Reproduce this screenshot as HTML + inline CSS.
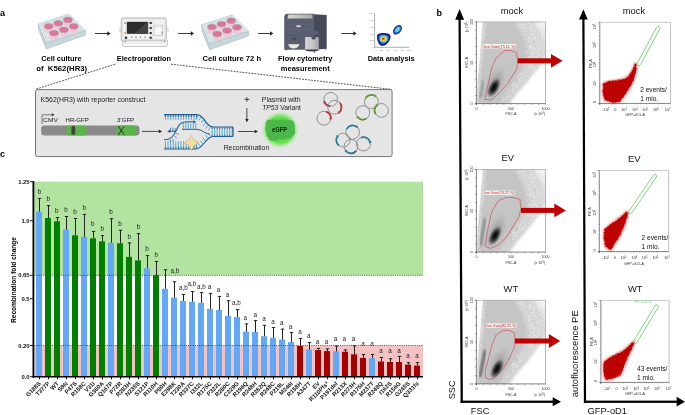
<!DOCTYPE html>
<html><head><meta charset="utf-8"><style>
html,body{margin:0;padding:0;background:#fff;width:685px;height:415px;overflow:hidden;}
svg{display:block;font-family:"Liberation Sans", sans-serif;will-change:transform;}
</style></head><body>
<svg width="685" height="415" viewBox="0 0 685 415">
<rect width="685" height="415" fill="#fff"/>
<rect x="34.2" y="181.7" width="388.8" height="93.6" fill="#b3e3a0"/>
<rect x="34.2" y="345.5" width="388.8" height="31.2" fill="#f4c2c2"/>
<rect x="36" y="211.7" width="6" height="165.0" fill="#62a8f7"/>
<line x1="39.5" y1="198.3" x2="39.5" y2="211.7" stroke="#222" stroke-width="1"/>
<line x1="37.8" y1="198.5" x2="41.2" y2="198.5" stroke="#222" stroke-width="1"/>
<text x="39.4" y="193.7" font-size="6.3" font-weight="normal" text-anchor="middle" fill="#222"  style="">b</text>
<line x1="39.5" y1="376.7" x2="39.5" y2="379.3" stroke="#111" stroke-width="1"/>
<text transform="translate(41.2,384.0) rotate(-45)" font-size="5.9" font-weight="bold" text-anchor="end" fill="#111">G188S</text>
<rect x="45" y="218" width="6" height="158.7" fill="#007f00"/>
<line x1="48.5" y1="205.4" x2="48.5" y2="218" stroke="#222" stroke-width="1"/>
<line x1="46.8" y1="205.6" x2="50.2" y2="205.6" stroke="#222" stroke-width="1"/>
<text x="48.2" y="201.2" font-size="6.3" font-weight="normal" text-anchor="middle" fill="#222"  style="">b</text>
<line x1="48.5" y1="376.7" x2="48.5" y2="379.3" stroke="#111" stroke-width="1"/>
<text transform="translate(50.2,384.0) rotate(-45)" font-size="5.9" font-weight="bold" text-anchor="end" fill="#111">T377P</text>
<rect x="54" y="221.3" width="6" height="155.4" fill="#007f00"/>
<line x1="57.5" y1="217.3" x2="57.5" y2="221.3" stroke="#222" stroke-width="1"/>
<line x1="55.8" y1="217.5" x2="59.2" y2="217.5" stroke="#222" stroke-width="1"/>
<text x="56.8" y="212.6" font-size="6.3" font-weight="normal" text-anchor="middle" fill="#222"  style="">b</text>
<line x1="57.5" y1="376.7" x2="57.5" y2="379.3" stroke="#111" stroke-width="1"/>
<text transform="translate(59.2,384.0) rotate(-45)" font-size="5.9" font-weight="bold" text-anchor="end" fill="#111">WT</text>
<rect x="63" y="229.7" width="6" height="147.0" fill="#62a8f7"/>
<line x1="66.5" y1="216.3" x2="66.5" y2="229.7" stroke="#222" stroke-width="1"/>
<line x1="64.8" y1="216.5" x2="68.2" y2="216.5" stroke="#222" stroke-width="1"/>
<text x="66" y="211.89999999999998" font-size="6.3" font-weight="normal" text-anchor="middle" fill="#222"  style="">b</text>
<line x1="66.5" y1="376.7" x2="66.5" y2="379.3" stroke="#111" stroke-width="1"/>
<text transform="translate(68.2,384.0) rotate(-45)" font-size="5.9" font-weight="bold" text-anchor="end" fill="#111">S9N</text>
<rect x="72" y="235.3" width="6" height="141.4" fill="#007f00"/>
<line x1="75.5" y1="218.3" x2="75.5" y2="235.3" stroke="#222" stroke-width="1"/>
<line x1="73.8" y1="218.5" x2="77.2" y2="218.5" stroke="#222" stroke-width="1"/>
<text x="75" y="214.2" font-size="6.3" font-weight="normal" text-anchor="middle" fill="#222"  style="">b</text>
<line x1="75.5" y1="376.7" x2="75.5" y2="379.3" stroke="#111" stroke-width="1"/>
<text transform="translate(77.2,384.0) rotate(-45)" font-size="5.9" font-weight="bold" text-anchor="end" fill="#111">P47S</text>
<rect x="81" y="236.8" width="6" height="139.9" fill="#62a8f7"/>
<line x1="84.5" y1="214.2" x2="84.5" y2="236.8" stroke="#222" stroke-width="1"/>
<line x1="82.8" y1="214.39999999999998" x2="86.2" y2="214.39999999999998" stroke="#222" stroke-width="1"/>
<text x="84.2" y="210.1" font-size="6.3" font-weight="normal" text-anchor="middle" fill="#222"  style="">b</text>
<line x1="84.5" y1="376.7" x2="84.5" y2="379.3" stroke="#111" stroke-width="1"/>
<text transform="translate(86.2,384.0) rotate(-45)" font-size="5.9" font-weight="bold" text-anchor="end" fill="#111">R158C</text>
<rect x="90" y="238.3" width="6" height="138.4" fill="#007f00"/>
<line x1="93.5" y1="231.2" x2="93.5" y2="238.3" stroke="#222" stroke-width="1"/>
<line x1="91.8" y1="231.39999999999998" x2="95.2" y2="231.39999999999998" stroke="#222" stroke-width="1"/>
<text x="92.8" y="226.1" font-size="6.3" font-weight="normal" text-anchor="middle" fill="#222"  style="">b</text>
<line x1="93.5" y1="376.7" x2="93.5" y2="379.3" stroke="#111" stroke-width="1"/>
<text transform="translate(95.2,384.0) rotate(-45)" font-size="5.9" font-weight="bold" text-anchor="end" fill="#111">V31I</text>
<rect x="99" y="241.3" width="6" height="135.4" fill="#007f00"/>
<line x1="102.5" y1="235.3" x2="102.5" y2="241.3" stroke="#222" stroke-width="1"/>
<line x1="100.8" y1="235.5" x2="104.2" y2="235.5" stroke="#222" stroke-width="1"/>
<text x="102.2" y="230.89999999999998" font-size="6.3" font-weight="normal" text-anchor="middle" fill="#222"  style="">b</text>
<line x1="102.5" y1="376.7" x2="102.5" y2="379.3" stroke="#111" stroke-width="1"/>
<text transform="translate(104.2,384.0) rotate(-45)" font-size="5.9" font-weight="bold" text-anchor="end" fill="#111">G360A</text>
<rect x="108" y="242.8" width="6" height="133.9" fill="#62a8f7"/>
<line x1="111.5" y1="218.5" x2="111.5" y2="242.8" stroke="#222" stroke-width="1"/>
<line x1="109.8" y1="218.7" x2="113.2" y2="218.7" stroke="#222" stroke-width="1"/>
<text x="111" y="213.89999999999998" font-size="6.3" font-weight="normal" text-anchor="middle" fill="#222"  style="">b</text>
<line x1="111.5" y1="376.7" x2="111.5" y2="379.3" stroke="#111" stroke-width="1"/>
<text transform="translate(113.2,384.0) rotate(-45)" font-size="5.9" font-weight="bold" text-anchor="end" fill="#111">Q167P</text>
<rect x="117" y="243.2" width="6" height="133.5" fill="#007f00"/>
<line x1="120.5" y1="230" x2="120.5" y2="243.2" stroke="#222" stroke-width="1"/>
<line x1="118.8" y1="230.2" x2="122.2" y2="230.2" stroke="#222" stroke-width="1"/>
<text x="119.9" y="225.79999999999998" font-size="6.3" font-weight="normal" text-anchor="middle" fill="#222"  style="">b</text>
<line x1="120.5" y1="376.7" x2="120.5" y2="379.3" stroke="#111" stroke-width="1"/>
<text transform="translate(122.2,384.0) rotate(-45)" font-size="5.9" font-weight="bold" text-anchor="end" fill="#111">P72R</text>
<rect x="126" y="256.9" width="6" height="119.8" fill="#007f00"/>
<line x1="129.5" y1="242.7" x2="129.5" y2="256.9" stroke="#222" stroke-width="1"/>
<line x1="127.8" y1="242.89999999999998" x2="131.2" y2="242.89999999999998" stroke="#222" stroke-width="1"/>
<text x="129.2" y="238.5" font-size="6.3" font-weight="normal" text-anchor="middle" fill="#222"  style="">b</text>
<line x1="129.5" y1="376.7" x2="129.5" y2="379.3" stroke="#111" stroke-width="1"/>
<text transform="translate(131.2,384.0) rotate(-45)" font-size="5.9" font-weight="bold" text-anchor="end" fill="#111">R283H</text>
<rect x="135" y="260.4" width="6" height="116.3" fill="#007f00"/>
<line x1="138.5" y1="233.4" x2="138.5" y2="260.4" stroke="#222" stroke-width="1"/>
<line x1="136.8" y1="233.6" x2="140.2" y2="233.6" stroke="#222" stroke-width="1"/>
<text x="138.5" y="229.2" font-size="6.3" font-weight="normal" text-anchor="middle" fill="#222"  style="">b</text>
<line x1="138.5" y1="376.7" x2="138.5" y2="379.3" stroke="#111" stroke-width="1"/>
<text transform="translate(140.2,384.0) rotate(-45)" font-size="5.9" font-weight="bold" text-anchor="end" fill="#111">N235S</text>
<rect x="144" y="268.3" width="6" height="108.4" fill="#62a8f7"/>
<line x1="147.5" y1="255.4" x2="147.5" y2="268.3" stroke="#222" stroke-width="1"/>
<line x1="145.8" y1="255.6" x2="149.2" y2="255.6" stroke="#222" stroke-width="1"/>
<text x="147.1" y="251.2" font-size="6.3" font-weight="normal" text-anchor="middle" fill="#222"  style="">b</text>
<line x1="147.5" y1="376.7" x2="147.5" y2="379.3" stroke="#111" stroke-width="1"/>
<text transform="translate(149.2,384.0) rotate(-45)" font-size="5.9" font-weight="bold" text-anchor="end" fill="#111">S121P</text>
<rect x="153" y="275.1" width="6" height="101.6" fill="#007f00"/>
<line x1="156.5" y1="261.2" x2="156.5" y2="275.1" stroke="#222" stroke-width="1"/>
<line x1="154.8" y1="261.4" x2="158.2" y2="261.4" stroke="#222" stroke-width="1"/>
<text x="156.2" y="257.1" font-size="6.3" font-weight="normal" text-anchor="middle" fill="#222"  style="">b</text>
<line x1="156.5" y1="376.7" x2="156.5" y2="379.3" stroke="#111" stroke-width="1"/>
<text transform="translate(158.2,384.0) rotate(-45)" font-size="5.9" font-weight="bold" text-anchor="end" fill="#111">R110H</text>
<rect x="162" y="288.8" width="6" height="87.9" fill="#62a8f7"/>
<line x1="165.5" y1="269.6" x2="165.5" y2="288.8" stroke="#222" stroke-width="1"/>
<line x1="163.8" y1="269.8" x2="167.2" y2="269.8" stroke="#222" stroke-width="1"/>
<line x1="165.5" y1="376.7" x2="165.5" y2="379.3" stroke="#111" stroke-width="1"/>
<text transform="translate(167.2,384.0) rotate(-45)" font-size="5.9" font-weight="bold" text-anchor="end" fill="#111">P80H</text>
<rect x="171" y="297.5" width="6" height="79.2" fill="#62a8f7"/>
<line x1="174.5" y1="281.6" x2="174.5" y2="297.5" stroke="#222" stroke-width="1"/>
<line x1="172.8" y1="281.8" x2="176.2" y2="281.8" stroke="#222" stroke-width="1"/>
<text x="175" y="273.2" font-size="6.3" font-weight="normal" text-anchor="middle" fill="#222"  style="">a,b</text>
<line x1="174.5" y1="376.7" x2="174.5" y2="379.3" stroke="#111" stroke-width="1"/>
<text transform="translate(176.2,384.0) rotate(-45)" font-size="5.9" font-weight="bold" text-anchor="end" fill="#111">E298K</text>
<rect x="180" y="301.0" width="6" height="75.7" fill="#62a8f7"/>
<line x1="183.5" y1="294.2" x2="183.5" y2="301.0" stroke="#222" stroke-width="1"/>
<line x1="181.8" y1="294.4" x2="185.2" y2="294.4" stroke="#222" stroke-width="1"/>
<text x="183.3" y="290.4" font-size="6.3" font-weight="normal" text-anchor="middle" fill="#222"  style="">a,b</text>
<line x1="183.5" y1="376.7" x2="183.5" y2="379.3" stroke="#111" stroke-width="1"/>
<text transform="translate(185.2,384.0) rotate(-45)" font-size="5.9" font-weight="bold" text-anchor="end" fill="#111">T230A</text>
<rect x="189" y="301.8" width="6" height="74.9" fill="#62a8f7"/>
<line x1="192.5" y1="291.4" x2="192.5" y2="301.8" stroke="#222" stroke-width="1"/>
<line x1="190.8" y1="291.59999999999997" x2="194.2" y2="291.59999999999997" stroke="#222" stroke-width="1"/>
<text x="192" y="286.2" font-size="6.3" font-weight="normal" text-anchor="middle" fill="#222"  style="">a,b</text>
<line x1="192.5" y1="376.7" x2="192.5" y2="379.3" stroke="#111" stroke-width="1"/>
<text transform="translate(194.2,384.0) rotate(-45)" font-size="5.9" font-weight="bold" text-anchor="end" fill="#111">R337C</text>
<rect x="198" y="302.8" width="6" height="73.9" fill="#62a8f7"/>
<line x1="201.5" y1="292.3" x2="201.5" y2="302.8" stroke="#222" stroke-width="1"/>
<line x1="199.8" y1="292.5" x2="203.2" y2="292.5" stroke="#222" stroke-width="1"/>
<text x="201.4" y="289.3" font-size="6.3" font-weight="normal" text-anchor="middle" fill="#222"  style="">a,b</text>
<line x1="201.5" y1="376.7" x2="201.5" y2="379.3" stroke="#111" stroke-width="1"/>
<text transform="translate(203.2,384.0) rotate(-45)" font-size="5.9" font-weight="bold" text-anchor="end" fill="#111">I332L</text>
<rect x="207" y="308.8" width="6" height="67.9" fill="#62a8f7"/>
<line x1="210.5" y1="293.2" x2="210.5" y2="308.8" stroke="#222" stroke-width="1"/>
<line x1="208.8" y1="293.4" x2="212.2" y2="293.4" stroke="#222" stroke-width="1"/>
<text x="209.6" y="289.3" font-size="6.3" font-weight="normal" text-anchor="middle" fill="#222"  style="">a</text>
<line x1="210.5" y1="376.7" x2="210.5" y2="379.3" stroke="#111" stroke-width="1"/>
<text transform="translate(212.2,384.0) rotate(-45)" font-size="5.9" font-weight="bold" text-anchor="end" fill="#111">R175C</text>
<rect x="216" y="310" width="6" height="66.7" fill="#62a8f7"/>
<line x1="219.5" y1="296.2" x2="219.5" y2="310" stroke="#222" stroke-width="1"/>
<line x1="217.8" y1="296.4" x2="221.2" y2="296.4" stroke="#222" stroke-width="1"/>
<text x="218.5" y="292.0" font-size="6.3" font-weight="normal" text-anchor="middle" fill="#222"  style="">a</text>
<line x1="219.5" y1="376.7" x2="219.5" y2="379.3" stroke="#111" stroke-width="1"/>
<text transform="translate(221.2,384.0) rotate(-45)" font-size="5.9" font-weight="bold" text-anchor="end" fill="#111">P322L</text>
<rect x="225" y="315.8" width="6" height="60.9" fill="#62a8f7"/>
<line x1="228.5" y1="300.5" x2="228.5" y2="315.8" stroke="#222" stroke-width="1"/>
<line x1="226.8" y1="300.7" x2="230.2" y2="300.7" stroke="#222" stroke-width="1"/>
<text x="227.6" y="297.2" font-size="6.3" font-weight="normal" text-anchor="middle" fill="#222"  style="">a</text>
<line x1="228.5" y1="376.7" x2="228.5" y2="379.3" stroke="#111" stroke-width="1"/>
<text transform="translate(230.2,384.0) rotate(-45)" font-size="5.9" font-weight="bold" text-anchor="end" fill="#111">R280C</text>
<rect x="234" y="317.0" width="6" height="59.7" fill="#62a8f7"/>
<line x1="237.5" y1="309.4" x2="237.5" y2="317.0" stroke="#222" stroke-width="1"/>
<line x1="235.8" y1="309.59999999999997" x2="239.2" y2="309.59999999999997" stroke="#222" stroke-width="1"/>
<text x="236.5" y="305.0" font-size="6.3" font-weight="normal" text-anchor="middle" fill="#222"  style="">a,b</text>
<line x1="237.5" y1="376.7" x2="237.5" y2="379.3" stroke="#111" stroke-width="1"/>
<text transform="translate(239.2,384.0) rotate(-45)" font-size="5.9" font-weight="bold" text-anchor="end" fill="#111">C229G</text>
<rect x="243" y="331.5" width="6" height="45.2" fill="#62a8f7"/>
<line x1="246.5" y1="323.7" x2="246.5" y2="331.5" stroke="#222" stroke-width="1"/>
<line x1="244.8" y1="323.9" x2="248.2" y2="323.9" stroke="#222" stroke-width="1"/>
<text x="245.3" y="319.8" font-size="6.3" font-weight="normal" text-anchor="middle" fill="#222"  style="">a</text>
<line x1="246.5" y1="376.7" x2="246.5" y2="379.3" stroke="#111" stroke-width="1"/>
<text transform="translate(248.2,384.0) rotate(-45)" font-size="5.9" font-weight="bold" text-anchor="end" fill="#111">R196Q</text>
<rect x="252" y="332" width="6" height="44.7" fill="#62a8f7"/>
<line x1="255.5" y1="320.4" x2="255.5" y2="332" stroke="#222" stroke-width="1"/>
<line x1="253.8" y1="320.59999999999997" x2="257.2" y2="320.59999999999997" stroke="#222" stroke-width="1"/>
<text x="255.2" y="316.5" font-size="6.3" font-weight="normal" text-anchor="middle" fill="#222"  style="">a</text>
<line x1="255.5" y1="376.7" x2="255.5" y2="379.3" stroke="#111" stroke-width="1"/>
<text transform="translate(257.2,384.0) rotate(-45)" font-size="5.9" font-weight="bold" text-anchor="end" fill="#111">R248H</text>
<rect x="261" y="336.2" width="6" height="40.5" fill="#62a8f7"/>
<line x1="264.5" y1="325.1" x2="264.5" y2="336.2" stroke="#222" stroke-width="1"/>
<line x1="262.8" y1="325.3" x2="266.2" y2="325.3" stroke="#222" stroke-width="1"/>
<text x="264" y="321.09999999999997" font-size="6.3" font-weight="normal" text-anchor="middle" fill="#222"  style="">a</text>
<line x1="264.5" y1="376.7" x2="264.5" y2="379.3" stroke="#111" stroke-width="1"/>
<text transform="translate(266.2,384.0) rotate(-45)" font-size="5.9" font-weight="bold" text-anchor="end" fill="#111">R282Q</text>
<rect x="270" y="337.8" width="6" height="38.9" fill="#62a8f7"/>
<line x1="273.5" y1="327.3" x2="273.5" y2="337.8" stroke="#222" stroke-width="1"/>
<line x1="271.8" y1="327.5" x2="275.2" y2="327.5" stroke="#222" stroke-width="1"/>
<text x="273.1" y="323.5" font-size="6.3" font-weight="normal" text-anchor="middle" fill="#222"  style="">a</text>
<line x1="273.5" y1="376.7" x2="273.5" y2="379.3" stroke="#111" stroke-width="1"/>
<text transform="translate(275.2,384.0) rotate(-45)" font-size="5.9" font-weight="bold" text-anchor="end" fill="#111">R248C</text>
<rect x="279" y="339.5" width="6" height="37.2" fill="#62a8f7"/>
<line x1="282.5" y1="328.9" x2="282.5" y2="339.5" stroke="#222" stroke-width="1"/>
<line x1="280.8" y1="329.09999999999997" x2="284.2" y2="329.09999999999997" stroke="#222" stroke-width="1"/>
<text x="281.8" y="324.7" font-size="6.3" font-weight="normal" text-anchor="middle" fill="#222"  style="">a</text>
<line x1="282.5" y1="376.7" x2="282.5" y2="379.3" stroke="#111" stroke-width="1"/>
<text transform="translate(284.2,384.0) rotate(-45)" font-size="5.9" font-weight="bold" text-anchor="end" fill="#111">P219L</text>
<rect x="288" y="342" width="6" height="34.7" fill="#62a8f7"/>
<line x1="291.5" y1="332.4" x2="291.5" y2="342" stroke="#222" stroke-width="1"/>
<line x1="289.8" y1="332.59999999999997" x2="293.2" y2="332.59999999999997" stroke="#222" stroke-width="1"/>
<text x="290.4" y="328.8" font-size="6.3" font-weight="normal" text-anchor="middle" fill="#222"  style="">a</text>
<line x1="291.5" y1="376.7" x2="291.5" y2="379.3" stroke="#111" stroke-width="1"/>
<text transform="translate(293.2,384.0) rotate(-45)" font-size="5.9" font-weight="bold" text-anchor="end" fill="#111">M246I</text>
<rect x="297" y="345.9" width="6" height="30.8" fill="#a30000"/>
<line x1="300.5" y1="338.2" x2="300.5" y2="345.9" stroke="#222" stroke-width="1"/>
<line x1="298.8" y1="338.4" x2="302.2" y2="338.4" stroke="#222" stroke-width="1"/>
<text x="300.1" y="334.0" font-size="6.3" font-weight="normal" text-anchor="middle" fill="#222"  style="">a</text>
<line x1="300.5" y1="376.7" x2="300.5" y2="379.3" stroke="#111" stroke-width="1"/>
<text transform="translate(302.2,384.0) rotate(-45)" font-size="5.9" font-weight="bold" text-anchor="end" fill="#111">R158H</text>
<rect x="306" y="349.5" width="6" height="27.2" fill="#62a8f7"/>
<line x1="309.5" y1="342.4" x2="309.5" y2="349.5" stroke="#222" stroke-width="1"/>
<line x1="307.8" y1="342.59999999999997" x2="311.2" y2="342.59999999999997" stroke="#222" stroke-width="1"/>
<text x="308.7" y="338.4" font-size="6.3" font-weight="normal" text-anchor="middle" fill="#222"  style="">a</text>
<line x1="309.5" y1="376.7" x2="309.5" y2="379.3" stroke="#111" stroke-width="1"/>
<text transform="translate(311.2,384.0) rotate(-45)" font-size="5.9" font-weight="bold" text-anchor="end" fill="#111">A347T</text>
<rect x="315" y="350.1" width="6" height="26.6" fill="#a30000"/>
<line x1="318.5" y1="348.2" x2="318.5" y2="350.1" stroke="#222" stroke-width="1"/>
<line x1="316.8" y1="348.4" x2="320.2" y2="348.4" stroke="#222" stroke-width="1"/>
<text x="317.4" y="344.2" font-size="6.3" font-weight="normal" text-anchor="middle" fill="#222"  style="">a</text>
<line x1="318.5" y1="376.7" x2="318.5" y2="379.3" stroke="#111" stroke-width="1"/>
<text transform="translate(320.2,384.0) rotate(-45)" font-size="5.9" font-weight="bold" text-anchor="end" fill="#111">EV</text>
<rect x="324" y="351.1" width="6" height="25.6" fill="#a30000"/>
<line x1="327.5" y1="348.7" x2="327.5" y2="351.1" stroke="#222" stroke-width="1"/>
<line x1="325.8" y1="348.9" x2="329.2" y2="348.9" stroke="#222" stroke-width="1"/>
<text x="326.5" y="344.2" font-size="6.3" font-weight="normal" text-anchor="middle" fill="#222"  style="">a</text>
<line x1="327.5" y1="376.7" x2="327.5" y2="379.3" stroke="#111" stroke-width="1"/>
<text transform="translate(329.2,384.0) rotate(-45)" font-size="5.9" font-weight="bold" text-anchor="end" fill="#111">R110Pfs*</text>
<rect x="333" y="351.4" width="6" height="25.3" fill="#62a8f7"/>
<line x1="336.5" y1="345.9" x2="336.5" y2="351.4" stroke="#222" stroke-width="1"/>
<line x1="334.8" y1="346.09999999999997" x2="338.2" y2="346.09999999999997" stroke="#222" stroke-width="1"/>
<text x="335.5" y="341.3" font-size="6.3" font-weight="normal" text-anchor="middle" fill="#222"  style="">a</text>
<line x1="336.5" y1="376.7" x2="336.5" y2="379.3" stroke="#111" stroke-width="1"/>
<text transform="translate(338.2,384.0) rotate(-45)" font-size="5.9" font-weight="bold" text-anchor="end" fill="#111">P191del</text>
<rect x="342" y="351.8" width="6" height="24.9" fill="#a30000"/>
<line x1="345.5" y1="349.7" x2="345.5" y2="351.8" stroke="#222" stroke-width="1"/>
<line x1="343.8" y1="349.9" x2="347.2" y2="349.9" stroke="#222" stroke-width="1"/>
<text x="344.2" y="341.0" font-size="6.3" font-weight="normal" text-anchor="middle" fill="#222"  style="">a</text>
<line x1="345.5" y1="376.7" x2="345.5" y2="379.3" stroke="#111" stroke-width="1"/>
<text transform="translate(347.2,384.0) rotate(-45)" font-size="5.9" font-weight="bold" text-anchor="end" fill="#111">R213X</text>
<rect x="351" y="354.3" width="6" height="22.4" fill="#a30000"/>
<line x1="354.5" y1="345.6" x2="354.5" y2="354.3" stroke="#222" stroke-width="1"/>
<line x1="352.8" y1="345.8" x2="356.2" y2="345.8" stroke="#222" stroke-width="1"/>
<text x="353.4" y="341.0" font-size="6.3" font-weight="normal" text-anchor="middle" fill="#222"  style="">a</text>
<line x1="354.5" y1="376.7" x2="354.5" y2="379.3" stroke="#111" stroke-width="1"/>
<text transform="translate(356.2,384.0) rotate(-45)" font-size="5.9" font-weight="bold" text-anchor="end" fill="#111">R273H</text>
<rect x="360" y="357.9" width="6" height="18.8" fill="#a30000"/>
<line x1="363.5" y1="354.3" x2="363.5" y2="357.9" stroke="#222" stroke-width="1"/>
<line x1="361.8" y1="354.5" x2="365.2" y2="354.5" stroke="#222" stroke-width="1"/>
<text x="363" y="346.09999999999997" font-size="6.3" font-weight="normal" text-anchor="middle" fill="#222"  style="">a</text>
<line x1="363.5" y1="376.7" x2="363.5" y2="379.3" stroke="#111" stroke-width="1"/>
<text transform="translate(365.2,384.0) rotate(-45)" font-size="5.9" font-weight="bold" text-anchor="end" fill="#111">R175H</text>
<rect x="369" y="358.1" width="6" height="18.6" fill="#62a8f7"/>
<line x1="372.5" y1="354.3" x2="372.5" y2="358.1" stroke="#222" stroke-width="1"/>
<line x1="370.8" y1="354.5" x2="374.2" y2="354.5" stroke="#222" stroke-width="1"/>
<text x="372" y="346.09999999999997" font-size="6.3" font-weight="normal" text-anchor="middle" fill="#222"  style="">a</text>
<line x1="372.5" y1="376.7" x2="372.5" y2="379.3" stroke="#111" stroke-width="1"/>
<text transform="translate(374.2,384.0) rotate(-45)" font-size="5.9" font-weight="bold" text-anchor="end" fill="#111">M237T</text>
<rect x="378" y="361.5" width="6" height="15.2" fill="#a30000"/>
<line x1="381.5" y1="357.3" x2="381.5" y2="361.5" stroke="#222" stroke-width="1"/>
<line x1="379.8" y1="357.5" x2="383.2" y2="357.5" stroke="#222" stroke-width="1"/>
<text x="381" y="352.9" font-size="6.3" font-weight="normal" text-anchor="middle" fill="#222"  style="">a</text>
<line x1="381.5" y1="376.7" x2="381.5" y2="379.3" stroke="#111" stroke-width="1"/>
<text transform="translate(383.2,384.0) rotate(-45)" font-size="5.9" font-weight="bold" text-anchor="end" fill="#111">R248Q</text>
<rect x="387" y="362" width="6" height="14.7" fill="#a30000"/>
<line x1="390.5" y1="358.5" x2="390.5" y2="362" stroke="#222" stroke-width="1"/>
<line x1="388.8" y1="358.7" x2="392.2" y2="358.7" stroke="#222" stroke-width="1"/>
<text x="390" y="352.9" font-size="6.3" font-weight="normal" text-anchor="middle" fill="#222"  style="">a</text>
<line x1="390.5" y1="376.7" x2="390.5" y2="379.3" stroke="#111" stroke-width="1"/>
<text transform="translate(392.2,384.0) rotate(-45)" font-size="5.9" font-weight="bold" text-anchor="end" fill="#111">I162S</text>
<rect x="396" y="362" width="6" height="14.7" fill="#a30000"/>
<line x1="399.5" y1="356.2" x2="399.5" y2="362" stroke="#222" stroke-width="1"/>
<line x1="397.8" y1="356.4" x2="401.2" y2="356.4" stroke="#222" stroke-width="1"/>
<text x="399" y="352.9" font-size="6.3" font-weight="normal" text-anchor="middle" fill="#222"  style="">a</text>
<line x1="399.5" y1="376.7" x2="399.5" y2="379.3" stroke="#111" stroke-width="1"/>
<text transform="translate(401.2,384.0) rotate(-45)" font-size="5.9" font-weight="bold" text-anchor="end" fill="#111">R156G</text>
<rect x="405" y="364.6" width="6" height="12.1" fill="#a30000"/>
<line x1="408.5" y1="362.5" x2="408.5" y2="364.6" stroke="#222" stroke-width="1"/>
<line x1="406.8" y1="362.7" x2="410.2" y2="362.7" stroke="#222" stroke-width="1"/>
<text x="408" y="358.09999999999997" font-size="6.3" font-weight="normal" text-anchor="middle" fill="#222"  style="">a</text>
<line x1="408.5" y1="376.7" x2="408.5" y2="379.3" stroke="#111" stroke-width="1"/>
<text transform="translate(410.2,384.0) rotate(-45)" font-size="5.9" font-weight="bold" text-anchor="end" fill="#111">G245S</text>
<rect x="414" y="365.6" width="6" height="11.1" fill="#a30000"/>
<line x1="417.5" y1="362.4" x2="417.5" y2="365.6" stroke="#222" stroke-width="1"/>
<line x1="415.8" y1="362.59999999999997" x2="419.2" y2="362.59999999999997" stroke="#222" stroke-width="1"/>
<text x="417" y="358.09999999999997" font-size="6.3" font-weight="normal" text-anchor="middle" fill="#222"  style="">a</text>
<line x1="417.5" y1="376.7" x2="417.5" y2="379.3" stroke="#111" stroke-width="1"/>
<text transform="translate(419.2,384.0) rotate(-45)" font-size="5.9" font-weight="bold" text-anchor="end" fill="#111">Q331fs</text>
<line x1="34.2" y1="275.3" x2="423" y2="275.3" stroke="#333" stroke-width="0.8" stroke-dasharray="1,1.2"/>
<line x1="34.2" y1="345.5" x2="423" y2="345.5" stroke="#333" stroke-width="0.8" stroke-dasharray="1,1.2"/>
<line x1="33.4" y1="181.2" x2="33.4" y2="377.5" stroke="#000" stroke-width="1.8"/>
<line x1="32.5" y1="376.7" x2="423" y2="376.7" stroke="#000" stroke-width="1.5"/>
<line x1="30" y1="181.7" x2="33" y2="181.7" stroke="#000" stroke-width="0.9"/>
<text x="29.6" y="183.8" font-size="5.9" font-weight="bold" text-anchor="end" fill="#111"  style="">1.25</text>
<line x1="30" y1="220.7" x2="33" y2="220.7" stroke="#000" stroke-width="0.9"/>
<text x="29.6" y="222.8" font-size="5.9" font-weight="bold" text-anchor="end" fill="#111"  style="">1.0</text>
<line x1="30" y1="275.3" x2="33" y2="275.3" stroke="#000" stroke-width="0.9"/>
<text x="29.6" y="277.4" font-size="5.9" font-weight="bold" text-anchor="end" fill="#111"  style="">0.65</text>
<line x1="30" y1="298.7" x2="33" y2="298.7" stroke="#000" stroke-width="0.9"/>
<text x="29.6" y="300.8" font-size="5.9" font-weight="bold" text-anchor="end" fill="#111"  style="">0.5</text>
<line x1="30" y1="345.5" x2="33" y2="345.5" stroke="#000" stroke-width="0.9"/>
<text x="29.6" y="347.6" font-size="5.9" font-weight="bold" text-anchor="end" fill="#111"  style="">0.20</text>
<line x1="30" y1="376.7" x2="33" y2="376.7" stroke="#000" stroke-width="0.9"/>
<text x="29.6" y="378.8" font-size="5.9" font-weight="bold" text-anchor="end" fill="#111"  style="">0.0</text>
<text transform="translate(16.3,280) rotate(-90)" font-size="6.6" font-weight="bold" text-anchor="middle" textLength="86" lengthAdjust="spacingAndGlyphs">Recombination fold change</text>
<text x="0" y="157" font-size="9" font-weight="bold" text-anchor="start" fill="#000"  style="">c</text>
<text x="0" y="16" font-size="9" font-weight="bold" text-anchor="start" fill="#000"  style="">a</text>
<text x="436.5" y="16" font-size="9" font-weight="bold" text-anchor="start" fill="#000"  style="">b</text>
<g transform="translate(0,0)"><polygon points="38.3,24 45.8,43 85.3,30.5 85.6,35 46.3,49 38.9,30.5" fill="#c6d8dc" stroke="#9db3b9" stroke-width="0.5"/><polygon points="38.3,24 69,14 85.3,30.5 45.8,43" fill="#e3eef0" stroke="#9db3b9" stroke-width="0.5"/><polygon points="40.8,24.6 68.6,15.6 82.8,30.2 46.6,41.3" fill="#dae7ea" stroke="#b8cbcf" stroke-width="0.45"/><path d="M44.2,26.2 v3.9 a4.5,2.8 0 0 0 9,0 v-3.9 z" fill="#f3c6d6"/><ellipse cx="48.7" cy="26.2" rx="4.5" ry="2.8" fill="#db7599" stroke="#8fa6aa" stroke-width="0.5"/><path d="M53.8,23.2 v3.9 a4.5,2.8 0 0 0 9,0 v-3.9 z" fill="#f3c6d6"/><ellipse cx="58.3" cy="23.2" rx="4.5" ry="2.8" fill="#db7599" stroke="#8fa6aa" stroke-width="0.5"/><path d="M63.400000000000006,19.9 v3.9 a4.5,2.8 0 0 0 9,0 v-3.9 z" fill="#f3c6d6"/><ellipse cx="67.9" cy="19.9" rx="4.5" ry="2.8" fill="#db7599" stroke="#8fa6aa" stroke-width="0.5"/><path d="M49.5,33.1 v3.9 a4.5,2.8 0 0 0 9,0 v-3.9 z" fill="#f3c6d6"/><ellipse cx="54" cy="33.1" rx="4.5" ry="2.8" fill="#db7599" stroke="#8fa6aa" stroke-width="0.5"/><path d="M59.4,29.7 v3.9 a4.5,2.8 0 0 0 9,0 v-3.9 z" fill="#f3c6d6"/><ellipse cx="63.9" cy="29.7" rx="4.5" ry="2.8" fill="#db7599" stroke="#8fa6aa" stroke-width="0.5"/><path d="M69.2,26.4 v3.9 a4.5,2.8 0 0 0 9,0 v-3.9 z" fill="#f3c6d6"/><ellipse cx="73.7" cy="26.4" rx="4.5" ry="2.8" fill="#db7599" stroke="#8fa6aa" stroke-width="0.5"/></g>
<g transform="translate(163.3,0.8)"><polygon points="38.3,24 45.8,43 85.3,30.5 85.6,35 46.3,49 38.9,30.5" fill="#c6d8dc" stroke="#9db3b9" stroke-width="0.5"/><polygon points="38.3,24 69,14 85.3,30.5 45.8,43" fill="#e3eef0" stroke="#9db3b9" stroke-width="0.5"/><polygon points="40.8,24.6 68.6,15.6 82.8,30.2 46.6,41.3" fill="#dae7ea" stroke="#b8cbcf" stroke-width="0.45"/><path d="M44.2,26.2 v3.9 a4.5,2.8 0 0 0 9,0 v-3.9 z" fill="#f3c6d6"/><ellipse cx="48.7" cy="26.2" rx="4.5" ry="2.8" fill="#db7599" stroke="#8fa6aa" stroke-width="0.5"/><path d="M53.8,23.2 v3.9 a4.5,2.8 0 0 0 9,0 v-3.9 z" fill="#f3c6d6"/><ellipse cx="58.3" cy="23.2" rx="4.5" ry="2.8" fill="#db7599" stroke="#8fa6aa" stroke-width="0.5"/><path d="M63.400000000000006,19.9 v3.9 a4.5,2.8 0 0 0 9,0 v-3.9 z" fill="#f3c6d6"/><ellipse cx="67.9" cy="19.9" rx="4.5" ry="2.8" fill="#db7599" stroke="#8fa6aa" stroke-width="0.5"/><path d="M49.5,33.1 v3.9 a4.5,2.8 0 0 0 9,0 v-3.9 z" fill="#f3c6d6"/><ellipse cx="54" cy="33.1" rx="4.5" ry="2.8" fill="#db7599" stroke="#8fa6aa" stroke-width="0.5"/><path d="M59.4,29.7 v3.9 a4.5,2.8 0 0 0 9,0 v-3.9 z" fill="#f3c6d6"/><ellipse cx="63.9" cy="29.7" rx="4.5" ry="2.8" fill="#db7599" stroke="#8fa6aa" stroke-width="0.5"/><path d="M69.2,26.4 v3.9 a4.5,2.8 0 0 0 9,0 v-3.9 z" fill="#f3c6d6"/><ellipse cx="73.7" cy="26.4" rx="4.5" ry="2.8" fill="#db7599" stroke="#8fa6aa" stroke-width="0.5"/></g>
<line x1="95" y1="33.5" x2="107.8" y2="33.5" stroke="#222" stroke-width="0.9"/>
<polygon points="110.5,33.5 107.3,31.3 107.3,35.7" fill="#222"/>
<line x1="178.2" y1="33.5" x2="191.3" y2="33.5" stroke="#222" stroke-width="0.9"/>
<polygon points="194,33.5 190.8,31.3 190.8,35.7" fill="#222"/>
<line x1="258.1" y1="33.5" x2="270.6" y2="33.5" stroke="#222" stroke-width="0.9"/>
<polygon points="273.3,33.5 270.1,31.3 270.1,35.7" fill="#222"/>
<line x1="341.4" y1="33.5" x2="353.90000000000003" y2="33.5" stroke="#222" stroke-width="0.9"/>
<polygon points="356.6,33.5 353.40000000000003,31.3 353.40000000000003,35.7" fill="#222"/>
<path d="M122.2,40 V44.2 Q122.2,46.4 124.4,46.4 H165.2 Q167.4,46.4 167.4,44.2 V40" fill="#fbfbfb" stroke="#a8a8a8" stroke-width="0.7"/>
<path d="M124,43.4 H165.6" stroke="#c8c8c8" stroke-width="0.5"/>
<rect x="124.2" y="41.2" width="1.6" height="1.2" fill="#999"/><rect x="163.8" y="41.2" width="1.6" height="1.2" fill="#999"/>
<ellipse cx="120.3" cy="30" rx="1" ry="1.6" fill="#f4f4f4" stroke="#aaa" stroke-width="0.4"/>
<ellipse cx="167.6" cy="30" rx="1" ry="1.6" fill="#f4f4f4" stroke="#aaa" stroke-width="0.4"/>
<rect x="121.2" y="17.9" width="45.1" height="23" rx="1.8" fill="#e8e8e8" stroke="#a4a4a4" stroke-width="0.7"/>
<rect x="122.6" y="19.3" width="42.3" height="20.2" rx="1" fill="#f2f2f2" stroke="#d0d0d0" stroke-width="0.4"/>
<rect x="126.8" y="21.8" width="21.3" height="12" fill="#2c2c2c"/>
<polygon points="148.1,21.8 148.1,33.8 134,33.8" fill="#444"/>
<circle cx="150.7" cy="23.1" r="1.25" fill="#3a3a3a"/>
<circle cx="150.7" cy="28" r="1.25" fill="#3a3a3a"/>
<circle cx="150.7" cy="33.1" r="1.25" fill="#3a3a3a"/>
<circle cx="150.7" cy="37.8" r="1.25" fill="#3a3a3a"/>
<circle cx="125.1" cy="23.1" r="0.9" fill="#3aa845"/>
<rect x="124.2" y="32.1" width="1.8" height="1.6" fill="#d2a030"/>
<circle cx="126" cy="37.8" r="1.3" fill="#333"/>
<circle cx="131.8" cy="37.2" r="0.6" fill="#555"/>
<circle cx="136" cy="37.2" r="0.6" fill="#555"/>
<circle cx="140.5" cy="37.2" r="0.6" fill="#555"/>
<circle cx="145" cy="37.2" r="0.6" fill="#555"/>
<line x1="152.8" y1="19.5" x2="152.8" y2="39.5" stroke="#d6d6d6" stroke-width="0.6"/>
<rect x="154.1" y="25.1" width="8.7" height="10.1" fill="#f8f8f8" stroke="#aaa" stroke-width="0.5"/>
<line x1="154.1" y1="27" x2="162.8" y2="27" stroke="#bbb" stroke-width="0.4"/>
<rect x="161.6" y="31.5" width="0.8" height="2.8" fill="#777"/>
<path d="M314,14.2 L326.7,15 L326.7,48.7 L314,49.8 Z" fill="#444a5a"/>
<path d="M287.6,13.7 L314,13.7 L314,49.8 L284.2,49.8 L284.2,17.1 Q284.2,13.7 287.6,13.7 Z" fill="#5a5f70"/>
<defs><linearGradient id="tb" x1="0" y1="0" x2="1" y2="0"><stop offset="0" stop-color="#d8d8d4"/><stop offset="1" stop-color="#a8aaa8"/></linearGradient><linearGradient id="wc" x1="0" y1="0" x2="1" y2="0"><stop offset="0" stop-color="#d4d4d4"/><stop offset="0.6" stop-color="#c6c6c6"/><stop offset="0.75" stop-color="#b4b4b4"/><stop offset="1" stop-color="#a8a8a8"/></linearGradient></defs>
<path d="M288.5,14.5 L312.4,14.5 L312.4,18.5 L287.4,18.5 Z" fill="url(#tb)"/>
<rect x="296.4" y="25.3" width="4.3" height="1.8" fill="#d8d8d8"/>
<line x1="284.5" y1="29.6" x2="314" y2="29.6" stroke="#6a6f80" stroke-width="0.5"/>
<rect x="311" y="31.2" width="7.5" height="3.4" fill="#5c6172"/>
<line x1="286" y1="35.5" x2="305" y2="35.5" stroke="#4a4f60" stroke-width="0.4"/>
<ellipse cx="312" cy="50" rx="7" ry="1.4" fill="#3a3d48"/>
<circle cx="314.3" cy="52" r="0.75" fill="#222"/>
<circle cx="286.3" cy="49.8" r="0.6" fill="#222"/><circle cx="325.4" cy="49" r="0.6" fill="#222"/>
<rect x="305.1" y="37.1" width="13.7" height="12.4" fill="url(#wc)"/>
<path d="M311.6,37.1 h4 v1.6 q-2,1.8 -4,0 z" fill="#4a4d58"/>
<path d="M288,44.2 L299.6,44.2 Q298,48.4 293.5,48.4 Q289.5,48.4 288,44.2 Z" fill="#e8e8e8"/>
<circle cx="293.2" cy="39" r="0.65" fill="#2a2a2a"/><circle cx="295.4" cy="39" r="0.65" fill="#2a2a2a"/>
<line x1="374.6" y1="13.5" x2="374.6" y2="47.3" stroke="#777" stroke-width="0.6"/>
<line x1="374.3" y1="47.3" x2="409" y2="47.3" stroke="#777" stroke-width="0.6"/>
<line x1="373.6" y1="47.30" x2="374.6" y2="47.30" stroke="#999" stroke-width="0.4"/>
<line x1="374.60" y1="47.3" x2="374.60" y2="48.3" stroke="#999" stroke-width="0.4"/>
<line x1="373.6" y1="40.55" x2="374.6" y2="40.55" stroke="#999" stroke-width="0.4"/>
<line x1="381.50" y1="47.3" x2="381.50" y2="48.3" stroke="#999" stroke-width="0.4"/>
<line x1="373.6" y1="33.80" x2="374.6" y2="33.80" stroke="#999" stroke-width="0.4"/>
<line x1="388.40" y1="47.3" x2="388.40" y2="48.3" stroke="#999" stroke-width="0.4"/>
<line x1="373.6" y1="27.05" x2="374.6" y2="27.05" stroke="#999" stroke-width="0.4"/>
<line x1="395.30" y1="47.3" x2="395.30" y2="48.3" stroke="#999" stroke-width="0.4"/>
<line x1="373.6" y1="20.30" x2="374.6" y2="20.30" stroke="#999" stroke-width="0.4"/>
<line x1="402.20" y1="47.3" x2="402.20" y2="48.3" stroke="#999" stroke-width="0.4"/>
<line x1="373.6" y1="13.55" x2="374.6" y2="13.55" stroke="#999" stroke-width="0.4"/>
<line x1="409.10" y1="47.3" x2="409.10" y2="48.3" stroke="#999" stroke-width="0.4"/>
<text x="373.2" y="48.00" font-size="2.1" text-anchor="end" fill="#8a8a8a">0</text>
<text x="374.60" y="50.6" font-size="2.1" text-anchor="middle" fill="#8a8a8a">0</text>
<text x="373.2" y="41.25" font-size="2.1" text-anchor="end" fill="#8a8a8a">200</text>
<text x="381.50" y="50.6" font-size="2.1" text-anchor="middle" fill="#8a8a8a">200</text>
<text x="373.2" y="34.50" font-size="2.1" text-anchor="end" fill="#8a8a8a">400</text>
<text x="388.40" y="50.6" font-size="2.1" text-anchor="middle" fill="#8a8a8a">400</text>
<text x="373.2" y="27.75" font-size="2.1" text-anchor="end" fill="#8a8a8a">600</text>
<text x="395.30" y="50.6" font-size="2.1" text-anchor="middle" fill="#8a8a8a">600</text>
<text x="373.2" y="21.00" font-size="2.1" text-anchor="end" fill="#8a8a8a">800</text>
<text x="402.20" y="50.6" font-size="2.1" text-anchor="middle" fill="#8a8a8a">800</text>
<text x="373.2" y="14.25" font-size="2.1" text-anchor="end" fill="#8a8a8a">1000</text>
<text x="409.10" y="50.6" font-size="2.1" text-anchor="middle" fill="#8a8a8a">1000</text>
<defs><filter id="bl1" x="-30%" y="-30%" width="160%" height="160%"><feGaussianBlur stdDeviation="0.45"/></filter></defs>
<g filter="url(#bl1)">
<path d="M377,36.5 C377,33 382,32.8 386,33.3 C391,33.8 391.5,37 389.5,40.5 C387.5,44 385,46 382,45.8 C378.5,45.5 377,40 377,36.5 Z" fill="#15157a"/>
<path d="M378.5,37 C378.5,34.5 382,34.3 385.5,34.7 C389.5,35.2 389.8,37.5 388.2,40 C386.5,42.8 384.5,44.3 382.2,44.2 C379.8,44 378.5,39.5 378.5,37 Z" fill="#2a5de0"/>
<ellipse cx="383.6" cy="38.8" rx="4.2" ry="3.6" fill="#3cc8e8"/>
<ellipse cx="383.5" cy="38.8" rx="3.3" ry="2.8" fill="#b8e040"/>
<ellipse cx="383.4" cy="38.8" rx="2.5" ry="2.1" fill="#ffd21a"/>
<ellipse cx="383.3" cy="38.8" rx="1.6" ry="1.3" fill="#ff7a10"/>
<ellipse cx="383.3" cy="38.8" rx="1" ry="0.8" fill="#e01818"/>
<ellipse cx="397.5" cy="29.8" rx="3.6" ry="5.4" transform="rotate(40 397.5 29.8)" fill="#15157a"/>
<ellipse cx="397.5" cy="29.8" rx="2.8" ry="4.4" transform="rotate(40 397.5 29.8)" fill="#2a5de0"/>
<ellipse cx="397.6" cy="29.6" rx="1.9" ry="3.2" transform="rotate(40 397.6 29.6)" fill="#4cd0d0"/>
<ellipse cx="397.8" cy="29.4" rx="1.0" ry="1.8" transform="rotate(40 397.8 29.4)" fill="#78e0b8"/>
</g>
<text x="61.4" y="61.4" font-size="7.9" font-weight="bold" text-anchor="middle" fill="#000" textLength="40.5" lengthAdjust="spacingAndGlyphs"  style="">Cell culture</text>
<text x="61.7" y="70.8" font-size="7.9" font-weight="bold" text-anchor="middle" fill="#000" textLength="51" lengthAdjust="spacingAndGlyphs"  style="">of  K562(HR3)</text>
<text x="143.9" y="61.4" font-size="7.9" font-weight="bold" text-anchor="middle" fill="#000" textLength="54.2" lengthAdjust="spacingAndGlyphs"  style="">Electroporation</text>
<text x="231.8" y="61.4" font-size="7.9" font-weight="bold" text-anchor="middle" fill="#000" textLength="58.4" lengthAdjust="spacingAndGlyphs"  style="">Cell culture 72 h</text>
<text x="305.25" y="61.4" font-size="7.9" font-weight="bold" text-anchor="middle" fill="#000" textLength="54.3" lengthAdjust="spacingAndGlyphs"  style="">Flow cytometry</text>
<text x="305.25" y="70.8" font-size="7.9" font-weight="bold" text-anchor="middle" fill="#000" textLength="48.9" lengthAdjust="spacingAndGlyphs"  style="">measurement</text>
<text x="391.2" y="61.4" font-size="7.9" font-weight="bold" text-anchor="middle" fill="#000" textLength="47" lengthAdjust="spacingAndGlyphs"  style="">Data analysis</text>
<line x1="115.3" y1="64.2" x2="35.5" y2="89.3" stroke="#222" stroke-width="0.8" stroke-dasharray="1.8,1.2"/>
<line x1="171" y1="64.2" x2="392" y2="89.4" stroke="#222" stroke-width="0.8" stroke-dasharray="1.8,1.2"/>
<rect x="35.5" y="89.6" width="356.6" height="67" rx="2" fill="#e5e5e5" stroke="#555" stroke-width="0.8"/>
<text x="40.6" y="101.7" font-size="6.8" font-weight="normal" text-anchor="start" fill="#1c1c1c" textLength="104.9" lengthAdjust="spacingAndGlyphs"  style="">K562(HR3) with reporter construct</text>
<path d="M42,124 V114.8 H52.5" fill="none" stroke="#333" stroke-width="0.6"/>
<polygon points="54.5,114.8 51.8,113.2 51.8,116.4" fill="#333"/>
<text x="43.1" y="122.2" font-size="6.2" font-weight="normal" text-anchor="start" fill="#1c1c1c" textLength="14.8" lengthAdjust="spacingAndGlyphs"  style="">CMV</text>
<text x="65.6" y="122.2" font-size="6.2" font-weight="normal" text-anchor="start" fill="#1c1c1c" textLength="23.2" lengthAdjust="spacingAndGlyphs"  style="">HR-GFP</text>
<text x="116.9" y="122.2" font-size="6.2" font-weight="normal" text-anchor="start" fill="#1c1c1c" textLength="17.3" lengthAdjust="spacingAndGlyphs"  style="">3’GFP</text>
<rect x="41.2" y="125.4" width="98.3" height="10.1" rx="3" fill="#8a8a8a"/>
<rect x="66.6" y="125.4" width="19.7" height="10.1" rx="2" fill="#5cb548"/>
<rect x="71.4" y="125.8" width="3.8" height="9.3" rx="1.8" fill="#444"/>
<rect x="116.5" y="125.4" width="19.9" height="10.1" rx="2" fill="#5cb548"/>
<path d="M118.3,126.3 L124.2,134.8 M124.2,126.3 L118.3,134.8" stroke="#222" stroke-width="0.9"/>
<line x1="142" y1="131.4" x2="159.3" y2="131.4" stroke="#222" stroke-width="0.8"/>
<polygon points="162,131.4 158.8,129.6 158.8,133.20000000000002" fill="#222"/>
<path d="M165.4,117 V119.8 M165.4,146.6 V141.2 M168.0,117 V119.8 M168.0,146.6 V141.2 M170.6,117 V119.8 M170.6,146.6 V141.2 M173.2,117 V119.8 M173.2,146.6 V141.2 M175.8,117 V119.8 M175.8,146.6 V141.2 M178.4,117 V119.8 M178.4,146.6 V141.2 M181.0,117 V119.8 M181.0,146.6 V141.2 M183.6,117 V119.8 M183.6,146.6 V141.2 M186.2,117 V119.8 M186.2,146.6 V141.2 M188.8,117 V119.8 M188.8,146.6 V141.2 M191.4,117 V119.8 M191.4,146.6 V141.2 M194.0,117 V119.8 M194.0,146.6 V141.2 M196.6,117 V119.8 M196.6,146.6 V141.2 M212.2,129 V134.6 M214.7,129 V134.6 M217.2,129 V134.6 M219.7,129 V134.6 M222.2,129 V134.6 M224.7,129 V134.6 M227.2,129 V134.6 M229.7,129 V134.6 M232.2,129 V134.6 M183.3,122.5 V128.6 M185.8,122.5 V128.6 M188.3,122.5 V128.6 M190.8,122.5 V128.6 M193.3,122.5 V128.6 M195.8,122.5 V128.6 M198.6,115.4 l-2.6,3.4 M197.6,148.2 l-2.6,-3.4 M201.3,117.0 l-2.6,3.4 M200.5,146.6 l-2.6,-3.4 M203.6,119.6 l-2.6,3.4 M203.0,144.0 l-2.6,-3.4 M205.8,122.5 l-2.6,3.4 M205.4,141.0 l-2.6,-3.4 M208.1,125.2 l-2.6,3.4 M207.9,138.3 l-2.6,-3.4 M210.7,127.1 l-2.6,3.4 M210.6,136.4 l-2.6,-3.4" stroke="#52b0dc" stroke-width="1" fill="none"/>
<path d="M165.4,115 V117 M165.4,148.6 V146.6 M168.0,115 V117 M168.0,148.6 V146.6 M170.6,115 V117 M170.6,148.6 V146.6 M173.2,115 V117 M173.2,148.6 V146.6 M175.8,115 V117 M175.8,148.6 V146.6 M178.4,115 V117 M178.4,148.6 V146.6 M181.0,115 V117 M181.0,148.6 V146.6 M183.6,115 V117 M183.6,148.6 V146.6 M186.2,115 V117 M186.2,148.6 V146.6 M188.8,115 V117 M188.8,148.6 V146.6 M191.4,115 V117 M191.4,148.6 V146.6 M194.0,115 V117 M194.0,148.6 V146.6 M196.6,115 V117 M196.6,148.6 V146.6 M212.2,127.3 V129 M212.2,134.6 V136.2 M214.7,127.3 V129 M214.7,134.6 V136.2 M217.2,127.3 V129 M217.2,134.6 V136.2 M219.7,127.3 V129 M219.7,134.6 V136.2 M222.2,127.3 V129 M222.2,134.6 V136.2 M224.7,127.3 V129 M224.7,134.6 V136.2 M227.2,127.3 V129 M227.2,134.6 V136.2 M229.7,127.3 V129 M229.7,134.6 V136.2 M232.2,127.3 V129 M232.2,134.6 V136.2" stroke="#1f5f94" stroke-width="1" fill="none"/>
<path d="M164,114.6 H197 C204,114.6 206,127 213,127 H233 M164,149 H196 C203,149 206,136.5 213,136.5 H233 M233,127 V136.5" fill="none" stroke="#1f5f94" stroke-width="1.2"/>
<path d="M164,139.8 C171,139.8 174,136 176.5,130 C179,124 181,121.8 187,121.8 H194" fill="none" stroke="#1f5f94" stroke-width="1.1"/>
<polygon points="196.2,121.8 193.4,120.2 193.4,123.4" fill="#1f5f94"/>
<path d="M182,129.3 H197 C202,129.3 204,133.5 210,134.2" fill="none" stroke="#1f5f94" stroke-width="1"/>
<path d="M172.3,138.6 l1.4,2.6 M174.5,136.2 l2.2,1.8 M176,133.5 l2.6,0.8 M170,139.5 l0.6,2.6" stroke="#1f5f94" stroke-width="0.7"/>
<path d="M176,131.3 H169.5" stroke="#1f5f94" stroke-width="1"/>
<polygon points="167.3,131.3 170.2,129.6 170.2,133" fill="#1f5f94"/>
<path d="M170.6,127.6 V131 M172.9,127.6 V131 M175.2,128.2 V131" stroke="#1f5f94" stroke-width="0.7"/>
<path d="M191.4,135.3 Q193.2,141 198.5,142.8 Q193.2,144.6 191.4,150.4 Q189.6,144.6 184.3,142.8 Q189.6,141 191.4,135.3 Z" fill="#f4dca2" stroke="#c8a060" stroke-width="0.5"/>
<line x1="238.1" y1="131.5" x2="255.3" y2="131.5" stroke="#222" stroke-width="0.8"/>
<polygon points="258,131.5 254.8,129.7 254.8,133.3" fill="#222"/>
<path d="M244.5,99.4 H249.3 M246.9,97 V101.8" stroke="#222" stroke-width="0.8"/>
<line x1="246.9" y1="108" x2="246.9" y2="119.6" stroke="#222" stroke-width="0.8"/>
<polygon points="246.9,122.3 245.1,119.1 248.70000000000002,119.1" fill="#222"/>
<text x="223.7" y="149.9" font-size="6.3" font-weight="normal" text-anchor="start" fill="#1c1c1c" textLength="45.5" lengthAdjust="spacingAndGlyphs"  style="">Recombination</text>
<text x="261.8" y="101.5" font-size="6.4" font-weight="normal" text-anchor="start" fill="#1c1c1c" textLength="38.8" lengthAdjust="spacingAndGlyphs"  style="">Plasmid with</text>
<text x="262.2" y="109.5" font-size="6.4" fill="#1c1c1c" textLength="38.8" lengthAdjust="spacingAndGlyphs"><tspan font-style="italic">TP53</tspan> Variant</text>
<defs><radialGradient id="glow"><stop offset="0" stop-color="#5fe040"/><stop offset="0.68" stop-color="#62e046"/><stop offset="0.84" stop-color="#9aea86" stop-opacity="0.7"/><stop offset="1" stop-color="#e5e5e5" stop-opacity="0"/></radialGradient></defs>
<circle cx="280.1" cy="129.8" r="19" fill="url(#glow)"/>
<path d="M266.5,122 C266,120 268,119.6 270,120 C271.5,118.8 274,119.3 275.5,120 C277.5,119 280,119.6 282,119.8 C284.5,119 287,119.8 289,120.3 C291.5,119.8 294,121 294,123.5 C295.5,125.5 294.3,128 295,130.5 C295.5,133 294.5,135.5 292.5,136 C292,138.5 289,139 287,138.8 C285,140.2 282,139.8 280,139.5 C277.5,140.5 274.5,141.5 272.5,140.5 C270,141 268,139.5 268.5,137.5 C266.5,136.5 265.5,134 266.5,132 C264.8,130.5 264.8,127.5 266,126 C264.8,124.5 265.5,122.8 266.5,122 Z" fill="#4cb74a"/>
<text x="279.5" y="132.2" font-size="6.3" font-weight="bold" text-anchor="middle" fill="#0c1f0c" textLength="15" lengthAdjust="spacingAndGlyphs">eGFP</text>
<circle cx="330.7" cy="99.4" r="6.9" fill="none" stroke="#8c8c8c" stroke-width="0.95"/>
<path d="M330.10,106.27 A6.9,6.9 0 0 1 324.50,102.42" fill="none" stroke="#b8343c" stroke-width="1.8"/>
<polygon points="323.95,100.83 322.79,103.26 326.21,101.59" fill="#b8343c"/>
<circle cx="334.6" cy="107.2" r="6.9" fill="none" stroke="#8c8c8c" stroke-width="0.95"/>
<path d="M339.89,102.76 A6.9,6.9 0 0 1 339.22,112.33" fill="none" stroke="#b8343c" stroke-width="1.8"/>
<polygon points="337.84,113.29 340.49,113.74 337.95,110.92" fill="#b8343c"/>
<circle cx="323.9" cy="118.2" r="6.9" fill="none" stroke="#8c8c8c" stroke-width="0.95"/>
<path d="M326.03,111.64 A6.9,6.9 0 0 1 330.80,118.44" fill="none" stroke="#b8343c" stroke-width="1.8"/>
<polygon points="330.53,120.10 332.69,118.51 328.90,118.37" fill="#b8343c"/>
<circle cx="371.4" cy="101.7" r="6.9" fill="none" stroke="#8c8c8c" stroke-width="0.95"/>
<path d="M365.42,98.25 A6.9,6.9 0 0 1 375.06,95.85" fill="none" stroke="#5e9a2c" stroke-width="1.8"/>
<polygon points="376.36,96.91 376.06,94.24 374.05,97.46" fill="#5e9a2c"/>
<circle cx="362.8" cy="112.7" r="6.9" fill="none" stroke="#8c8c8c" stroke-width="0.95"/>
<path d="M366.46,118.55 A6.9,6.9 0 0 1 357.84,117.49" fill="none" stroke="#5e9a2c" stroke-width="1.8"/>
<polygon points="356.82,116.15 356.47,118.81 359.20,116.17" fill="#5e9a2c"/>
<circle cx="381.5" cy="110.4" r="6.9" fill="none" stroke="#8c8c8c" stroke-width="0.95"/>
<path d="M375.65,114.06 A6.9,6.9 0 0 1 376.71,105.44" fill="none" stroke="#5e9a2c" stroke-width="1.8"/>
<polygon points="378.05,104.42 375.39,104.07 378.03,106.80" fill="#5e9a2c"/>
<circle cx="352.6" cy="132.3" r="6.9" fill="none" stroke="#8c8c8c" stroke-width="0.95"/>
<path d="M346.51,129.06 A6.9,6.9 0 0 1 356.66,126.72" fill="none" stroke="#2a7898" stroke-width="1.8"/>
<polygon points="357.89,127.86 357.77,125.18 355.54,128.25" fill="#2a7898"/>
<circle cx="343.2" cy="140.1" r="6.9" fill="none" stroke="#8c8c8c" stroke-width="0.95"/>
<path d="M338.95,145.54 A6.9,6.9 0 0 1 337.22,136.65" fill="none" stroke="#2a7898" stroke-width="1.8"/>
<polygon points="338.24,135.31 335.58,135.70 338.87,137.60" fill="#2a7898"/>
<circle cx="351" cy="146.4" r="6.9" fill="none" stroke="#8c8c8c" stroke-width="0.95"/>
<path d="M356.29,150.84 A6.9,6.9 0 0 1 346.04,151.19" fill="none" stroke="#2a7898" stroke-width="1.8"/>
<polygon points="345.02,149.85 344.67,152.51 347.40,149.87" fill="#2a7898"/>
<circle cx="363.5" cy="144" r="6.9" fill="none" stroke="#8c8c8c" stroke-width="0.95"/>
<path d="M360.92,137.60 A6.9,6.9 0 0 1 370.06,141.87" fill="none" stroke="#2a7898" stroke-width="1.8"/>
<polygon points="370.38,143.52 371.87,141.28 368.26,142.45" fill="#2a7898"/>
<defs><filter id="b08" x="-20%" y="-20%" width="140%" height="140%"><feGaussianBlur stdDeviation="0.8"/></filter><filter id="b15" x="-30%" y="-30%" width="160%" height="160%"><feGaussianBlur stdDeviation="1.6"/></filter><filter id="b3" x="-50%" y="-50%" width="200%" height="200%"><feGaussianBlur stdDeviation="3"/></filter><radialGradient id="blob"><stop offset="0" stop-color="#000"/><stop offset="0.35" stop-color="#222"/><stop offset="0.7" stop-color="#777"/><stop offset="1" stop-color="#b8b8b8" stop-opacity="0"/></radialGradient><radialGradient id="halo"><stop offset="0" stop-color="#8a8a8a"/><stop offset="1" stop-color="#b8b8b8" stop-opacity="0"/></radialGradient></defs>
<defs><pattern id="gs1" patternUnits="userSpaceOnUse" width="17" height="19"><g fill="#ffffff"><rect x="8.7" y="18.1" width="0.6" height="0.6"/><rect x="2.5" y="18.0" width="0.6" height="0.6"/><rect x="5.3" y="8.0" width="0.6" height="0.6"/><rect x="14.1" y="7.8" width="0.6" height="0.6"/><rect x="9.3" y="0.5" width="0.6" height="0.6"/><rect x="12.8" y="10.2" width="0.6" height="0.6"/><rect x="5.6" y="15.0" width="0.6" height="0.6"/><rect x="5.2" y="8.6" width="0.6" height="0.6"/><rect x="2.3" y="7.7" width="0.6" height="0.6"/><rect x="3.5" y="5.0" width="0.6" height="0.6"/><rect x="12.8" y="5.3" width="0.6" height="0.6"/><rect x="8.2" y="18.6" width="0.6" height="0.6"/><rect x="16.3" y="13.8" width="0.6" height="0.6"/><rect x="9.2" y="5.3" width="0.6" height="0.6"/><rect x="2.7" y="18.4" width="0.6" height="0.6"/><rect x="8.8" y="2.2" width="0.6" height="0.6"/><rect x="10.6" y="14.8" width="0.6" height="0.6"/><rect x="10.4" y="17.4" width="0.6" height="0.6"/><rect x="0.7" y="10.0" width="0.6" height="0.6"/><rect x="7.8" y="1.2" width="0.6" height="0.6"/><rect x="10.9" y="16.2" width="0.6" height="0.6"/><rect x="10.1" y="4.9" width="0.6" height="0.6"/><rect x="14.3" y="9.7" width="0.6" height="0.6"/><rect x="8.7" y="14.3" width="0.6" height="0.6"/><rect x="2.5" y="15.6" width="0.6" height="0.6"/><rect x="11.6" y="15.0" width="0.6" height="0.6"/><rect x="3.3" y="15.2" width="0.6" height="0.6"/><rect x="3.3" y="1.5" width="0.6" height="0.6"/><rect x="14.5" y="16.4" width="0.6" height="0.6"/><rect x="14.9" y="9.0" width="0.6" height="0.6"/><rect x="4.7" y="0.1" width="0.6" height="0.6"/><rect x="11.0" y="13.7" width="0.6" height="0.6"/><rect x="14.2" y="5.4" width="0.6" height="0.6"/><rect x="3.7" y="12.1" width="0.6" height="0.6"/><rect x="13.7" y="18.3" width="0.6" height="0.6"/><rect x="2.6" y="9.2" width="0.6" height="0.6"/><rect x="15.2" y="8.0" width="0.6" height="0.6"/><rect x="10.0" y="0.5" width="0.6" height="0.6"/><rect x="11.4" y="17.5" width="0.6" height="0.6"/><rect x="14.1" y="16.8" width="0.6" height="0.6"/><rect x="11.2" y="4.7" width="0.6" height="0.6"/><rect x="13.1" y="4.0" width="0.6" height="0.6"/><rect x="14.1" y="1.2" width="0.6" height="0.6"/><rect x="14.0" y="3.1" width="0.6" height="0.6"/><rect x="6.4" y="6.0" width="0.6" height="0.6"/><rect x="11.8" y="3.4" width="0.6" height="0.6"/><rect x="6.7" y="0.1" width="0.6" height="0.6"/><rect x="4.5" y="8.0" width="0.6" height="0.6"/><rect x="1.8" y="12.0" width="0.6" height="0.6"/><rect x="6.5" y="13.8" width="0.6" height="0.6"/><rect x="11.1" y="8.2" width="0.6" height="0.6"/><rect x="14.7" y="12.0" width="0.6" height="0.6"/><rect x="13.8" y="6.5" width="0.6" height="0.6"/><rect x="9.2" y="3.7" width="0.6" height="0.6"/><rect x="16.9" y="4.6" width="0.6" height="0.6"/><rect x="4.4" y="1.4" width="0.6" height="0.6"/><rect x="4.4" y="14.5" width="0.6" height="0.6"/><rect x="11.9" y="2.4" width="0.6" height="0.6"/><rect x="6.4" y="8.0" width="0.6" height="0.6"/><rect x="11.3" y="8.7" width="0.6" height="0.6"/><rect x="10.0" y="16.0" width="0.6" height="0.6"/><rect x="12.4" y="6.9" width="0.6" height="0.6"/><rect x="7.6" y="7.0" width="0.6" height="0.6"/><rect x="1.9" y="3.9" width="0.6" height="0.6"/><rect x="4.8" y="6.0" width="0.6" height="0.6"/><rect x="5.3" y="11.0" width="0.6" height="0.6"/><rect x="16.5" y="14.7" width="0.6" height="0.6"/><rect x="13.4" y="14.4" width="0.6" height="0.6"/><rect x="10.1" y="17.4" width="0.6" height="0.6"/><rect x="11.7" y="9.5" width="0.6" height="0.6"/><rect x="1.3" y="9.3" width="0.6" height="0.6"/><rect x="3.6" y="2.5" width="0.6" height="0.6"/><rect x="8.6" y="14.9" width="0.6" height="0.6"/><rect x="5.0" y="14.6" width="0.6" height="0.6"/><rect x="8.9" y="2.8" width="0.6" height="0.6"/><rect x="16.4" y="7.6" width="0.6" height="0.6"/><rect x="5.0" y="16.1" width="0.6" height="0.6"/><rect x="2.1" y="13.9" width="0.6" height="0.6"/><rect x="3.2" y="7.5" width="0.6" height="0.6"/><rect x="3.9" y="16.0" width="0.6" height="0.6"/><rect x="6.6" y="18.5" width="0.6" height="0.6"/><rect x="10.6" y="13.2" width="0.6" height="0.6"/><rect x="8.9" y="5.9" width="0.6" height="0.6"/><rect x="6.7" y="17.9" width="0.6" height="0.6"/><rect x="3.4" y="18.8" width="0.6" height="0.6"/><rect x="12.9" y="6.8" width="0.6" height="0.6"/><rect x="10.9" y="7.2" width="0.6" height="0.6"/><rect x="6.5" y="9.6" width="0.6" height="0.6"/><rect x="0.3" y="9.4" width="0.6" height="0.6"/><rect x="16.5" y="5.4" width="0.6" height="0.6"/><rect x="12.7" y="8.4" width="0.6" height="0.6"/><rect x="3.6" y="17.2" width="0.6" height="0.6"/><rect x="0.3" y="5.8" width="0.6" height="0.6"/><rect x="17.0" y="5.0" width="0.6" height="0.6"/><rect x="14.4" y="11.5" width="0.6" height="0.6"/><rect x="13.7" y="12.0" width="0.6" height="0.6"/><rect x="6.2" y="14.5" width="0.6" height="0.6"/><rect x="0.5" y="8.5" width="0.6" height="0.6"/><rect x="6.3" y="9.1" width="0.6" height="0.6"/><rect x="2.2" y="4.2" width="0.6" height="0.6"/><rect x="9.6" y="7.4" width="0.6" height="0.6"/><rect x="13.5" y="11.5" width="0.6" height="0.6"/><rect x="14.6" y="13.9" width="0.6" height="0.6"/><rect x="10.2" y="5.5" width="0.6" height="0.6"/><rect x="13.3" y="4.8" width="0.6" height="0.6"/><rect x="1.3" y="18.3" width="0.6" height="0.6"/><rect x="9.2" y="14.7" width="0.6" height="0.6"/><rect x="9.0" y="11.6" width="0.6" height="0.6"/><rect x="0.6" y="3.5" width="0.6" height="0.6"/><rect x="11.5" y="10.8" width="0.6" height="0.6"/><rect x="2.7" y="18.1" width="0.6" height="0.6"/><rect x="2.6" y="9.7" width="0.6" height="0.6"/><rect x="2.4" y="13.6" width="0.6" height="0.6"/><rect x="4.7" y="2.5" width="0.6" height="0.6"/><rect x="0.8" y="3.3" width="0.6" height="0.6"/><rect x="3.3" y="10.2" width="0.6" height="0.6"/><rect x="7.7" y="18.2" width="0.6" height="0.6"/><rect x="16.2" y="15.1" width="0.6" height="0.6"/><rect x="11.4" y="16.1" width="0.6" height="0.6"/><rect x="16.0" y="0.4" width="0.6" height="0.6"/><rect x="2.0" y="6.8" width="0.6" height="0.6"/><rect x="1.6" y="11.4" width="0.6" height="0.6"/><rect x="4.4" y="5.0" width="0.6" height="0.6"/><rect x="4.9" y="1.9" width="0.6" height="0.6"/><rect x="12.6" y="12.4" width="0.6" height="0.6"/><rect x="10.3" y="0.6" width="0.6" height="0.6"/><rect x="7.3" y="13.0" width="0.6" height="0.6"/><rect x="2.7" y="7.3" width="0.6" height="0.6"/><rect x="0.3" y="1.6" width="0.6" height="0.6"/><rect x="3.7" y="7.9" width="0.6" height="0.6"/><rect x="7.9" y="16.8" width="0.6" height="0.6"/><rect x="5.4" y="0.4" width="0.6" height="0.6"/><rect x="14.0" y="1.2" width="0.6" height="0.6"/><rect x="1.6" y="18.3" width="0.6" height="0.6"/><rect x="12.8" y="6.4" width="0.6" height="0.6"/><rect x="2.2" y="7.3" width="0.6" height="0.6"/><rect x="5.8" y="16.6" width="0.6" height="0.6"/><rect x="7.1" y="1.6" width="0.6" height="0.6"/><rect x="15.8" y="11.8" width="0.6" height="0.6"/><rect x="2.0" y="2.2" width="0.6" height="0.6"/><rect x="7.9" y="1.7" width="0.6" height="0.6"/><rect x="10.7" y="11.7" width="0.6" height="0.6"/><rect x="0.5" y="15.3" width="0.6" height="0.6"/><rect x="13.4" y="17.4" width="0.6" height="0.6"/><rect x="11.4" y="13.2" width="0.6" height="0.6"/><rect x="2.8" y="0.5" width="0.6" height="0.6"/><rect x="1.1" y="18.3" width="0.6" height="0.6"/><rect x="11.0" y="18.0" width="0.6" height="0.6"/><rect x="5.9" y="14.3" width="0.6" height="0.6"/><rect x="1.1" y="3.2" width="0.6" height="0.6"/><rect x="4.7" y="10.5" width="0.6" height="0.6"/><rect x="9.5" y="9.5" width="0.6" height="0.6"/><rect x="7.2" y="10.9" width="0.6" height="0.6"/><rect x="16.4" y="8.7" width="0.6" height="0.6"/><rect x="14.2" y="1.1" width="0.6" height="0.6"/><rect x="6.6" y="10.6" width="0.6" height="0.6"/><rect x="10.5" y="4.8" width="0.6" height="0.6"/><rect x="6.8" y="18.0" width="0.6" height="0.6"/><rect x="11.0" y="11.1" width="0.6" height="0.6"/><rect x="1.1" y="1.0" width="0.6" height="0.6"/><rect x="3.6" y="2.6" width="0.6" height="0.6"/><rect x="16.7" y="0.1" width="0.6" height="0.6"/><rect x="6.2" y="1.1" width="0.6" height="0.6"/><rect x="10.9" y="0.9" width="0.6" height="0.6"/><rect x="1.2" y="1.5" width="0.6" height="0.6"/><rect x="4.6" y="11.0" width="0.6" height="0.6"/><rect x="13.7" y="5.1" width="0.6" height="0.6"/><rect x="4.8" y="15.7" width="0.6" height="0.6"/><rect x="12.7" y="2.4" width="0.6" height="0.6"/><rect x="13.7" y="15.8" width="0.6" height="0.6"/><rect x="3.0" y="11.9" width="0.6" height="0.6"/><rect x="3.3" y="4.6" width="0.6" height="0.6"/><rect x="8.4" y="9.9" width="0.6" height="0.6"/><rect x="8.1" y="10.3" width="0.6" height="0.6"/><rect x="3.6" y="14.8" width="0.6" height="0.6"/><rect x="4.7" y="17.3" width="0.6" height="0.6"/><rect x="8.8" y="5.8" width="0.6" height="0.6"/><rect x="3.0" y="9.2" width="0.6" height="0.6"/><rect x="6.4" y="11.8" width="0.6" height="0.6"/><rect x="8.5" y="0.7" width="0.6" height="0.6"/><rect x="14.2" y="1.0" width="0.6" height="0.6"/><rect x="14.1" y="15.4" width="0.6" height="0.6"/><rect x="15.7" y="12.6" width="0.6" height="0.6"/><rect x="2.7" y="8.4" width="0.6" height="0.6"/><rect x="7.5" y="12.0" width="0.6" height="0.6"/><rect x="6.5" y="12.8" width="0.6" height="0.6"/><rect x="3.5" y="6.7" width="0.6" height="0.6"/><rect x="9.2" y="8.1" width="0.6" height="0.6"/><rect x="2.1" y="18.4" width="0.6" height="0.6"/><rect x="11.8" y="15.8" width="0.6" height="0.6"/><rect x="6.1" y="18.0" width="0.6" height="0.6"/><rect x="13.8" y="18.6" width="0.6" height="0.6"/><rect x="3.4" y="9.1" width="0.6" height="0.6"/><rect x="6.6" y="11.7" width="0.6" height="0.6"/><rect x="4.3" y="1.9" width="0.6" height="0.6"/><rect x="8.1" y="12.1" width="0.6" height="0.6"/><rect x="6.5" y="18.8" width="0.6" height="0.6"/><rect x="6.9" y="5.7" width="0.6" height="0.6"/><rect x="13.8" y="8.9" width="0.6" height="0.6"/><rect x="4.6" y="5.4" width="0.6" height="0.6"/><rect x="16.1" y="18.3" width="0.6" height="0.6"/><rect x="11.0" y="5.3" width="0.6" height="0.6"/><rect x="12.1" y="4.1" width="0.6" height="0.6"/><rect x="5.5" y="10.3" width="0.6" height="0.6"/><rect x="6.8" y="6.7" width="0.6" height="0.6"/><rect x="16.6" y="3.2" width="0.6" height="0.6"/><rect x="10.4" y="0.7" width="0.6" height="0.6"/><rect x="1.6" y="4.0" width="0.6" height="0.6"/><rect x="16.9" y="13.8" width="0.6" height="0.6"/><rect x="14.8" y="0.9" width="0.6" height="0.6"/><rect x="11.6" y="8.4" width="0.6" height="0.6"/><rect x="7.1" y="13.5" width="0.6" height="0.6"/><rect x="5.2" y="9.8" width="0.6" height="0.6"/><rect x="4.4" y="7.4" width="0.6" height="0.6"/><rect x="9.1" y="3.0" width="0.6" height="0.6"/><rect x="4.7" y="8.0" width="0.6" height="0.6"/><rect x="8.0" y="15.2" width="0.6" height="0.6"/><rect x="10.9" y="10.7" width="0.6" height="0.6"/><rect x="14.8" y="3.7" width="0.6" height="0.6"/><rect x="1.8" y="7.5" width="0.6" height="0.6"/><rect x="2.3" y="10.6" width="0.6" height="0.6"/><rect x="9.8" y="2.5" width="0.6" height="0.6"/><rect x="12.2" y="10.6" width="0.6" height="0.6"/><rect x="7.2" y="17.4" width="0.6" height="0.6"/></g></pattern></defs>
<defs><pattern id="gs2" patternUnits="userSpaceOnUse" width="19" height="17"><g fill="#c2c2c2"><rect x="5.0" y="5.1" width="0.9" height="0.9"/><rect x="15.5" y="1.6" width="0.9" height="0.9"/><rect x="11.4" y="12.4" width="0.9" height="0.9"/><rect x="3.6" y="0.9" width="0.9" height="0.9"/><rect x="5.2" y="11.2" width="0.9" height="0.9"/><rect x="10.7" y="2.6" width="0.9" height="0.9"/><rect x="8.2" y="11.4" width="0.9" height="0.9"/><rect x="8.0" y="10.8" width="0.9" height="0.9"/><rect x="18.4" y="11.6" width="0.9" height="0.9"/><rect x="7.4" y="3.2" width="0.9" height="0.9"/><rect x="6.6" y="8.7" width="0.9" height="0.9"/><rect x="16.9" y="13.2" width="0.9" height="0.9"/><rect x="6.0" y="15.7" width="0.9" height="0.9"/><rect x="8.9" y="11.8" width="0.9" height="0.9"/><rect x="2.0" y="1.8" width="0.9" height="0.9"/><rect x="3.8" y="15.0" width="0.9" height="0.9"/><rect x="12.9" y="14.4" width="0.9" height="0.9"/><rect x="12.2" y="6.9" width="0.9" height="0.9"/><rect x="9.8" y="10.1" width="0.9" height="0.9"/><rect x="16.4" y="7.4" width="0.9" height="0.9"/><rect x="17.0" y="10.4" width="0.9" height="0.9"/><rect x="15.8" y="8.5" width="0.9" height="0.9"/><rect x="13.2" y="5.8" width="0.9" height="0.9"/><rect x="9.9" y="3.7" width="0.9" height="0.9"/><rect x="1.9" y="0.7" width="0.9" height="0.9"/><rect x="13.3" y="7.8" width="0.9" height="0.9"/><rect x="17.1" y="14.2" width="0.9" height="0.9"/><rect x="7.3" y="16.6" width="0.9" height="0.9"/><rect x="11.2" y="13.0" width="0.9" height="0.9"/><rect x="7.7" y="3.3" width="0.9" height="0.9"/><rect x="3.3" y="3.1" width="0.9" height="0.9"/><rect x="11.5" y="1.9" width="0.9" height="0.9"/><rect x="0.4" y="14.2" width="0.9" height="0.9"/><rect x="1.9" y="7.7" width="0.9" height="0.9"/><rect x="9.3" y="10.5" width="0.9" height="0.9"/><rect x="9.6" y="15.9" width="0.9" height="0.9"/><rect x="14.3" y="9.8" width="0.9" height="0.9"/><rect x="11.7" y="8.6" width="0.9" height="0.9"/><rect x="18.3" y="3.9" width="0.9" height="0.9"/><rect x="13.1" y="9.4" width="0.9" height="0.9"/><rect x="0.8" y="5.0" width="0.9" height="0.9"/><rect x="17.6" y="13.3" width="0.9" height="0.9"/><rect x="0.2" y="5.0" width="0.9" height="0.9"/><rect x="0.2" y="14.1" width="0.9" height="0.9"/><rect x="2.1" y="1.0" width="0.9" height="0.9"/><rect x="18.7" y="7.6" width="0.9" height="0.9"/><rect x="6.0" y="0.8" width="0.9" height="0.9"/><rect x="7.4" y="6.2" width="0.9" height="0.9"/><rect x="9.9" y="0.1" width="0.9" height="0.9"/><rect x="2.8" y="3.6" width="0.9" height="0.9"/><rect x="8.4" y="5.1" width="0.9" height="0.9"/><rect x="11.7" y="4.9" width="0.9" height="0.9"/><rect x="17.3" y="16.4" width="0.9" height="0.9"/><rect x="1.1" y="3.6" width="0.9" height="0.9"/><rect x="10.7" y="13.1" width="0.9" height="0.9"/><rect x="1.2" y="3.1" width="0.9" height="0.9"/><rect x="8.7" y="11.4" width="0.9" height="0.9"/><rect x="17.2" y="14.7" width="0.9" height="0.9"/><rect x="15.1" y="0.9" width="0.9" height="0.9"/><rect x="18.6" y="10.4" width="0.9" height="0.9"/><rect x="1.6" y="4.3" width="0.9" height="0.9"/><rect x="11.8" y="6.6" width="0.9" height="0.9"/><rect x="8.5" y="13.7" width="0.9" height="0.9"/><rect x="15.7" y="9.3" width="0.9" height="0.9"/><rect x="15.1" y="6.9" width="0.9" height="0.9"/><rect x="18.5" y="10.3" width="0.9" height="0.9"/><rect x="18.4" y="0.7" width="0.9" height="0.9"/><rect x="16.8" y="9.5" width="0.9" height="0.9"/><rect x="13.6" y="3.3" width="0.9" height="0.9"/><rect x="10.4" y="4.9" width="0.9" height="0.9"/><rect x="2.0" y="0.1" width="0.9" height="0.9"/><rect x="17.2" y="11.4" width="0.9" height="0.9"/><rect x="3.9" y="4.4" width="0.9" height="0.9"/><rect x="8.8" y="13.9" width="0.9" height="0.9"/><rect x="2.2" y="16.5" width="0.9" height="0.9"/><rect x="17.9" y="4.2" width="0.9" height="0.9"/><rect x="12.2" y="6.1" width="0.9" height="0.9"/><rect x="13.2" y="1.5" width="0.9" height="0.9"/><rect x="8.9" y="10.0" width="0.9" height="0.9"/><rect x="11.9" y="11.8" width="0.9" height="0.9"/><rect x="16.9" y="4.1" width="0.9" height="0.9"/><rect x="2.9" y="6.6" width="0.9" height="0.9"/><rect x="10.8" y="16.3" width="0.9" height="0.9"/><rect x="13.5" y="12.6" width="0.9" height="0.9"/><rect x="18.5" y="4.6" width="0.9" height="0.9"/><rect x="4.9" y="7.2" width="0.9" height="0.9"/><rect x="5.6" y="11.1" width="0.9" height="0.9"/><rect x="18.1" y="2.6" width="0.9" height="0.9"/><rect x="9.8" y="11.5" width="0.9" height="0.9"/><rect x="9.4" y="15.5" width="0.9" height="0.9"/><rect x="14.0" y="15.0" width="0.9" height="0.9"/><rect x="2.1" y="3.3" width="0.9" height="0.9"/><rect x="1.2" y="14.1" width="0.9" height="0.9"/><rect x="18.3" y="0.2" width="0.9" height="0.9"/><rect x="15.0" y="12.4" width="0.9" height="0.9"/><rect x="17.3" y="4.6" width="0.9" height="0.9"/><rect x="13.6" y="4.0" width="0.9" height="0.9"/><rect x="1.4" y="12.7" width="0.9" height="0.9"/><rect x="0.8" y="11.9" width="0.9" height="0.9"/><rect x="5.4" y="8.3" width="0.9" height="0.9"/><rect x="16.9" y="4.1" width="0.9" height="0.9"/><rect x="8.9" y="6.0" width="0.9" height="0.9"/><rect x="3.6" y="8.1" width="0.9" height="0.9"/><rect x="3.5" y="13.6" width="0.9" height="0.9"/><rect x="11.7" y="4.8" width="0.9" height="0.9"/><rect x="18.5" y="5.9" width="0.9" height="0.9"/><rect x="12.8" y="12.5" width="0.9" height="0.9"/><rect x="5.0" y="0.2" width="0.9" height="0.9"/><rect x="17.0" y="16.3" width="0.9" height="0.9"/><rect x="3.2" y="2.6" width="0.9" height="0.9"/><rect x="8.2" y="10.2" width="0.9" height="0.9"/><rect x="18.8" y="16.4" width="0.9" height="0.9"/><rect x="18.8" y="4.2" width="0.9" height="0.9"/><rect x="11.4" y="7.4" width="0.9" height="0.9"/><rect x="4.4" y="1.1" width="0.9" height="0.9"/><rect x="3.2" y="6.1" width="0.9" height="0.9"/><rect x="1.7" y="2.6" width="0.9" height="0.9"/><rect x="0.8" y="10.6" width="0.9" height="0.9"/><rect x="9.4" y="4.1" width="0.9" height="0.9"/><rect x="10.0" y="7.2" width="0.9" height="0.9"/><rect x="12.5" y="15.9" width="0.9" height="0.9"/><rect x="6.7" y="11.0" width="0.9" height="0.9"/><rect x="4.2" y="16.0" width="0.9" height="0.9"/><rect x="11.7" y="2.7" width="0.9" height="0.9"/><rect x="4.9" y="2.7" width="0.9" height="0.9"/><rect x="3.4" y="5.2" width="0.9" height="0.9"/><rect x="15.6" y="7.8" width="0.9" height="0.9"/><rect x="5.3" y="7.1" width="0.9" height="0.9"/><rect x="5.1" y="12.5" width="0.9" height="0.9"/><rect x="1.1" y="4.9" width="0.9" height="0.9"/><rect x="6.1" y="3.1" width="0.9" height="0.9"/><rect x="14.0" y="3.1" width="0.9" height="0.9"/><rect x="5.7" y="1.0" width="0.9" height="0.9"/><rect x="14.4" y="6.2" width="0.9" height="0.9"/><rect x="12.5" y="3.7" width="0.9" height="0.9"/><rect x="0.4" y="5.5" width="0.9" height="0.9"/><rect x="14.8" y="14.2" width="0.9" height="0.9"/><rect x="6.6" y="14.4" width="0.9" height="0.9"/><rect x="1.0" y="8.9" width="0.9" height="0.9"/><rect x="4.9" y="7.5" width="0.9" height="0.9"/><rect x="4.2" y="15.2" width="0.9" height="0.9"/><rect x="5.7" y="16.1" width="0.9" height="0.9"/><rect x="2.1" y="7.3" width="0.9" height="0.9"/><rect x="8.4" y="12.1" width="0.9" height="0.9"/><rect x="6.6" y="8.4" width="0.9" height="0.9"/><rect x="1.3" y="5.3" width="0.9" height="0.9"/><rect x="13.8" y="1.8" width="0.9" height="0.9"/><rect x="8.8" y="4.0" width="0.9" height="0.9"/><rect x="3.1" y="2.1" width="0.9" height="0.9"/><rect x="15.5" y="11.7" width="0.9" height="0.9"/><rect x="7.2" y="6.7" width="0.9" height="0.9"/><rect x="13.8" y="10.3" width="0.9" height="0.9"/><rect x="17.4" y="15.6" width="0.9" height="0.9"/><rect x="9.2" y="11.2" width="0.9" height="0.9"/><rect x="10.3" y="5.3" width="0.9" height="0.9"/><rect x="8.6" y="12.3" width="0.9" height="0.9"/><rect x="10.5" y="10.8" width="0.9" height="0.9"/><rect x="9.3" y="16.2" width="0.9" height="0.9"/><rect x="14.8" y="2.2" width="0.9" height="0.9"/><rect x="15.5" y="15.6" width="0.9" height="0.9"/><rect x="15.5" y="5.8" width="0.9" height="0.9"/><rect x="7.0" y="4.1" width="0.9" height="0.9"/><rect x="1.1" y="8.0" width="0.9" height="0.9"/><rect x="16.2" y="13.1" width="0.9" height="0.9"/><rect x="12.6" y="14.4" width="0.9" height="0.9"/><rect x="12.5" y="3.8" width="0.9" height="0.9"/><rect x="15.3" y="6.2" width="0.9" height="0.9"/><rect x="16.9" y="5.6" width="0.9" height="0.9"/><rect x="1.7" y="12.4" width="0.9" height="0.9"/><rect x="2.0" y="14.8" width="0.9" height="0.9"/><rect x="7.8" y="13.3" width="0.9" height="0.9"/><rect x="1.0" y="9.2" width="0.9" height="0.9"/><rect x="12.9" y="2.2" width="0.9" height="0.9"/><rect x="11.6" y="2.4" width="0.9" height="0.9"/><rect x="5.8" y="6.2" width="0.9" height="0.9"/><rect x="11.8" y="2.2" width="0.9" height="0.9"/><rect x="3.5" y="13.3" width="0.9" height="0.9"/><rect x="13.6" y="7.7" width="0.9" height="0.9"/><rect x="5.4" y="11.8" width="0.9" height="0.9"/><rect x="8.9" y="5.3" width="0.9" height="0.9"/><rect x="16.6" y="3.4" width="0.9" height="0.9"/><rect x="15.3" y="10.5" width="0.9" height="0.9"/><rect x="12.3" y="11.6" width="0.9" height="0.9"/><rect x="14.2" y="15.0" width="0.9" height="0.9"/><rect x="17.5" y="4.3" width="0.9" height="0.9"/><rect x="3.1" y="15.2" width="0.9" height="0.9"/><rect x="3.9" y="3.8" width="0.9" height="0.9"/><rect x="15.3" y="16.4" width="0.9" height="0.9"/><rect x="16.0" y="8.8" width="0.9" height="0.9"/><rect x="7.1" y="16.8" width="0.9" height="0.9"/><rect x="14.0" y="10.7" width="0.9" height="0.9"/><rect x="0.2" y="3.3" width="0.9" height="0.9"/><rect x="0.3" y="15.4" width="0.9" height="0.9"/><rect x="4.5" y="2.9" width="0.9" height="0.9"/><rect x="11.1" y="3.5" width="0.9" height="0.9"/><rect x="10.4" y="16.1" width="0.9" height="0.9"/><rect x="16.4" y="4.2" width="0.9" height="0.9"/><rect x="17.4" y="6.8" width="0.9" height="0.9"/><rect x="9.9" y="5.5" width="0.9" height="0.9"/></g></pattern></defs>
<defs><pattern id="rs1" patternUnits="userSpaceOnUse" width="13" height="11"><g fill="#c00000"><rect x="1.1" y="2.6" width="0.8" height="0.8"/><rect x="10.4" y="6.4" width="0.8" height="0.8"/><rect x="1.2" y="4.8" width="0.8" height="0.8"/><rect x="6.2" y="1.8" width="0.8" height="0.8"/><rect x="9.5" y="1.3" width="0.8" height="0.8"/><rect x="5.1" y="5.7" width="0.8" height="0.8"/><rect x="5.6" y="6.5" width="0.8" height="0.8"/><rect x="9.6" y="10.5" width="0.8" height="0.8"/><rect x="3.7" y="7.1" width="0.8" height="0.8"/><rect x="9.1" y="3.2" width="0.8" height="0.8"/><rect x="0.0" y="10.7" width="0.8" height="0.8"/><rect x="3.9" y="3.5" width="0.8" height="0.8"/><rect x="11.6" y="6.4" width="0.8" height="0.8"/><rect x="6.1" y="8.5" width="0.8" height="0.8"/><rect x="0.4" y="7.8" width="0.8" height="0.8"/><rect x="4.9" y="1.0" width="0.8" height="0.8"/><rect x="8.6" y="10.2" width="0.8" height="0.8"/><rect x="2.7" y="6.9" width="0.8" height="0.8"/><rect x="3.9" y="8.2" width="0.8" height="0.8"/><rect x="9.4" y="2.4" width="0.8" height="0.8"/><rect x="10.8" y="7.2" width="0.8" height="0.8"/><rect x="8.9" y="9.0" width="0.8" height="0.8"/><rect x="5.6" y="8.3" width="0.8" height="0.8"/><rect x="11.4" y="1.1" width="0.8" height="0.8"/><rect x="11.0" y="4.3" width="0.8" height="0.8"/><rect x="6.2" y="1.6" width="0.8" height="0.8"/><rect x="9.1" y="3.2" width="0.8" height="0.8"/><rect x="11.3" y="3.0" width="0.8" height="0.8"/><rect x="7.3" y="4.4" width="0.8" height="0.8"/><rect x="8.0" y="2.2" width="0.8" height="0.8"/><rect x="2.3" y="8.2" width="0.8" height="0.8"/><rect x="9.8" y="6.2" width="0.8" height="0.8"/><rect x="12.0" y="2.3" width="0.8" height="0.8"/><rect x="11.1" y="1.9" width="0.8" height="0.8"/><rect x="12.5" y="6.9" width="0.8" height="0.8"/><rect x="7.9" y="10.7" width="0.8" height="0.8"/><rect x="10.2" y="8.7" width="0.8" height="0.8"/><rect x="0.7" y="4.1" width="0.8" height="0.8"/><rect x="1.1" y="2.1" width="0.8" height="0.8"/><rect x="2.8" y="9.4" width="0.8" height="0.8"/><rect x="1.6" y="3.3" width="0.8" height="0.8"/><rect x="6.4" y="9.3" width="0.8" height="0.8"/><rect x="12.5" y="7.8" width="0.8" height="0.8"/><rect x="2.8" y="6.0" width="0.8" height="0.8"/><rect x="9.2" y="0.6" width="0.8" height="0.8"/><rect x="8.8" y="4.1" width="0.8" height="0.8"/><rect x="7.7" y="7.4" width="0.8" height="0.8"/><rect x="8.7" y="5.8" width="0.8" height="0.8"/><rect x="7.2" y="2.2" width="0.8" height="0.8"/><rect x="6.4" y="1.4" width="0.8" height="0.8"/><rect x="6.2" y="5.9" width="0.8" height="0.8"/><rect x="10.1" y="4.3" width="0.8" height="0.8"/><rect x="0.3" y="5.8" width="0.8" height="0.8"/><rect x="2.7" y="8.2" width="0.8" height="0.8"/><rect x="5.1" y="4.2" width="0.8" height="0.8"/><rect x="11.8" y="4.3" width="0.8" height="0.8"/><rect x="4.5" y="3.8" width="0.8" height="0.8"/><rect x="6.2" y="1.0" width="0.8" height="0.8"/><rect x="7.1" y="10.1" width="0.8" height="0.8"/><rect x="7.3" y="8.2" width="0.8" height="0.8"/><rect x="12.3" y="9.3" width="0.8" height="0.8"/><rect x="9.7" y="8.9" width="0.8" height="0.8"/><rect x="10.7" y="2.8" width="0.8" height="0.8"/><rect x="6.3" y="3.8" width="0.8" height="0.8"/><rect x="3.4" y="6.3" width="0.8" height="0.8"/><rect x="4.1" y="6.8" width="0.8" height="0.8"/><rect x="7.6" y="1.1" width="0.8" height="0.8"/><rect x="5.8" y="4.3" width="0.8" height="0.8"/><rect x="9.2" y="1.0" width="0.8" height="0.8"/><rect x="2.2" y="5.6" width="0.8" height="0.8"/><rect x="5.3" y="7.3" width="0.8" height="0.8"/><rect x="4.3" y="2.2" width="0.8" height="0.8"/><rect x="12.1" y="2.7" width="0.8" height="0.8"/><rect x="1.9" y="3.1" width="0.8" height="0.8"/><rect x="4.4" y="2.5" width="0.8" height="0.8"/><rect x="7.0" y="10.3" width="0.8" height="0.8"/><rect x="1.6" y="4.6" width="0.8" height="0.8"/><rect x="8.7" y="9.7" width="0.8" height="0.8"/></g></pattern></defs>
<g transform="translate(476.4,21.9) scale(1.0000,1.0000) translate(-476.4,-21.9)">
<clipPath id="pcmock"><polygon points="482.6,21.9 545.5,21.9 545.5,103.6 476.8,103.6 477.6,81.3 479.4,61.5 481,41.8"/></clipPath>
<g clip-path="url(#pcmock)">
<polygon points="484,18 536,18 548,30 548,52 541,61.5 533.3,71.4 523.5,81.3 514.6,91.2 503.7,101 499,106 477,106 477,90 478,81.3 480,61.5 481.5,41.8" fill="#e2e2e2" filter="url(#b3)"/>
<polygon points="484,18 530,18 542,35 545.5,50 543,61 535,71 526,83 517,93 508,106 477,106 478,81.3 480.5,61.5 482,41.8" fill="#d0d0d0" filter="url(#b15)"/>
<polygon points="484,20 514,20 524,35 529,50 529,61 523,72 517,83 509,93 502,104 477.5,104 478.3,81.3 480.3,61.5 481.8,41.8" fill="#c5c5c5" filter="url(#b15)"/>
<path d="M484,18 L548,18 L548,50 L541,61.5 L533.3,71.4 L523.5,81.3 L514.6,91.2 L503.7,101 L499,106 L477,106 Z M487,20 L512,20 L521,33 L525,47 L525,60 L520,71 L513,82 L505,93 L498,106 L478,106 Z" fill-rule="evenodd" fill="url(#gs1)" opacity="0.8"/>
</g>
</g>
<ellipse cx="494.9" cy="83.4" rx="10" ry="21" transform="rotate(25 494.9 83.4)" fill="url(#halo)"/>
<ellipse cx="493.9" cy="87.4" rx="5.8" ry="12" transform="rotate(28 493.9 87.4)" fill="url(#blob)"/>
<line x1="480.5" y1="97.5" x2="483.4" y2="81" stroke="#8a8a8a" stroke-width="1.8" stroke-linecap="round" filter="url(#b08)"/>
<polygon points="484.8,99.3 488.4,83.1 491.7,67.9 496,58.1 504.7,50.5 511.2,50.5 516.6,52.7 517.7,61.4 516.6,69 508,83.1 498.2,93.9 491.7,100" fill="none" stroke="#d23c3c" stroke-width="0.6"/>
<rect x="483.70000000000005" y="44.0" width="32.3" height="4.4" fill="#f6f6f6" fill-opacity="0.92"/>
<text x="484.1" y="47.6" font-size="3.9" fill="#d02020" textLength="31.5" lengthAdjust="spacingAndGlyphs">live Gate(75.11 %)</text>
<line x1="474.59999999999997" y1="21.9" x2="545.5" y2="21.9" stroke="#aaa" stroke-width="0.8"/>
<line x1="545.5" y1="21.9" x2="545.5" y2="103.6" stroke="#888" stroke-width="0.6"/>
<line x1="476.4" y1="21.9" x2="476.4" y2="105.1" stroke="#333" stroke-width="0.6"/>
<line x1="474.9" y1="103.6" x2="545.5" y2="103.6" stroke="#333" stroke-width="0.6"/>
<line x1="474.79999999999995" y1="103.60" x2="476.4" y2="103.60" stroke="#444" stroke-width="0.4"/>
<line x1="476.40" y1="103.6" x2="476.40" y2="105.0" stroke="#444" stroke-width="0.4"/>
<line x1="474.79999999999995" y1="95.43" x2="476.4" y2="95.43" stroke="#444" stroke-width="0.4"/>
<line x1="483.31" y1="103.6" x2="483.31" y2="105.0" stroke="#444" stroke-width="0.4"/>
<line x1="474.79999999999995" y1="87.26" x2="476.4" y2="87.26" stroke="#444" stroke-width="0.4"/>
<line x1="490.22" y1="103.6" x2="490.22" y2="105.0" stroke="#444" stroke-width="0.4"/>
<line x1="474.79999999999995" y1="79.09" x2="476.4" y2="79.09" stroke="#444" stroke-width="0.4"/>
<line x1="497.13" y1="103.6" x2="497.13" y2="105.0" stroke="#444" stroke-width="0.4"/>
<line x1="474.79999999999995" y1="70.92" x2="476.4" y2="70.92" stroke="#444" stroke-width="0.4"/>
<line x1="504.04" y1="103.6" x2="504.04" y2="105.0" stroke="#444" stroke-width="0.4"/>
<line x1="474.79999999999995" y1="62.75" x2="476.4" y2="62.75" stroke="#444" stroke-width="0.4"/>
<line x1="510.95" y1="103.6" x2="510.95" y2="105.0" stroke="#444" stroke-width="0.4"/>
<line x1="474.79999999999995" y1="54.58" x2="476.4" y2="54.58" stroke="#444" stroke-width="0.4"/>
<line x1="517.86" y1="103.6" x2="517.86" y2="105.0" stroke="#444" stroke-width="0.4"/>
<line x1="474.79999999999995" y1="46.41" x2="476.4" y2="46.41" stroke="#444" stroke-width="0.4"/>
<line x1="524.77" y1="103.6" x2="524.77" y2="105.0" stroke="#444" stroke-width="0.4"/>
<line x1="474.79999999999995" y1="38.24" x2="476.4" y2="38.24" stroke="#444" stroke-width="0.4"/>
<line x1="531.68" y1="103.6" x2="531.68" y2="105.0" stroke="#444" stroke-width="0.4"/>
<line x1="474.79999999999995" y1="30.07" x2="476.4" y2="30.07" stroke="#444" stroke-width="0.4"/>
<line x1="538.59" y1="103.6" x2="538.59" y2="105.0" stroke="#444" stroke-width="0.4"/>
<line x1="474.79999999999995" y1="21.90" x2="476.4" y2="21.90" stroke="#444" stroke-width="0.4"/>
<line x1="545.50" y1="103.6" x2="545.50" y2="105.0" stroke="#444" stroke-width="0.4"/>
<text transform="translate(473.2,21.9) rotate(-90)" font-size="3.6" text-anchor="middle" fill="#333">100</text>
<text transform="translate(473.2,62.7) rotate(-90)" font-size="3.6" text-anchor="middle" fill="#333">50</text>
<text transform="translate(473.2,103.6) rotate(-90)" font-size="3.6" text-anchor="middle" fill="#333">0</text>
<text transform="translate(467.79999999999995,26.9) rotate(-90)" font-size="3.6" text-anchor="middle" fill="#333">(x 10<tspan font-size="2.6" dy="-1">3</tspan><tspan dy="1">)</tspan></text>
<text transform="translate(467.79999999999995,62.7) rotate(-90)" font-size="3.6" text-anchor="middle" fill="#333">SSC-A</text>
<text x="476.4" y="109.9" font-size="3.6" text-anchor="middle" fill="#333">0</text>
<text x="510.9" y="109.9" font-size="3.6" text-anchor="middle" fill="#333">500</text>
<text x="545.5" y="109.9" font-size="3.6" text-anchor="middle" fill="#333">1000</text>
<text x="510.9" y="115.2" font-size="3.6" text-anchor="middle" fill="#333">FSC-A</text>
<text x="539.5" y="115.2" font-size="3.6" text-anchor="middle" fill="#333">(x 10<tspan font-size="2.6" dy="-1">3</tspan><tspan dy="1">)</tspan></text>
<text x="511.9" y="13.6" font-size="9.4" text-anchor="middle" fill="#111">mock</text>
<g transform="translate(476.4,169.5) scale(1.0000,1.0110) translate(-476.4,-21.9)">
<clipPath id="pcEV"><polygon points="482.6,21.9 545.5,21.9 545.5,103.6 476.8,103.6 477.6,81.3 479.4,61.5 481,41.8"/></clipPath>
<g clip-path="url(#pcEV)">
<polygon points="484,18 536,18 548,30 548,52 541,61.5 533.3,71.4 523.5,81.3 514.6,91.2 503.7,101 499,106 477,106 477,90 478,81.3 480,61.5 481.5,41.8" fill="#e2e2e2" filter="url(#b3)"/>
<polygon points="484,18 530,18 542,35 545.5,50 543,61 535,71 526,83 517,93 508,106 477,106 478,81.3 480.5,61.5 482,41.8" fill="#d0d0d0" filter="url(#b15)"/>
<polygon points="484,20 514,20 524,35 529,50 529,61 523,72 517,83 509,93 502,104 477.5,104 478.3,81.3 480.3,61.5 481.8,41.8" fill="#c5c5c5" filter="url(#b15)"/>
<path d="M484,18 L548,18 L548,50 L541,61.5 L533.3,71.4 L523.5,81.3 L514.6,91.2 L503.7,101 L499,106 L477,106 Z M487,20 L512,20 L521,33 L525,47 L525,60 L520,71 L513,82 L505,93 L498,106 L478,106 Z" fill-rule="evenodd" fill="url(#gs1)" opacity="0.8"/>
</g>
</g>
<ellipse cx="496" cy="231.5" rx="10" ry="21" transform="rotate(25 496 231.5)" fill="url(#halo)"/>
<ellipse cx="495" cy="235.5" rx="5.8" ry="12" transform="rotate(28 495 235.5)" fill="url(#blob)"/>
<line x1="480.8" y1="245" x2="484.8" y2="219" stroke="#7a7a7a" stroke-width="2.1" stroke-linecap="round" filter="url(#b08)"/>
<polygon points="485.2,246.3 488,228 491.7,212 498.2,200.8 505.8,197.5 513,197.5 519.9,199.3 521,208.4 518.8,217.1 512,228 506.9,236.6 498.2,245.3 490.6,248.5" fill="none" stroke="#d23c3c" stroke-width="0.6"/>
<rect x="483.70000000000005" y="190.60000000000002" width="31.2" height="4.4" fill="#f6f6f6" fill-opacity="0.92"/>
<text x="484.1" y="194.20000000000002" font-size="3.9" fill="#d02020" textLength="30.4" lengthAdjust="spacingAndGlyphs">live Gate(73.27 %)</text>
<line x1="474.59999999999997" y1="169.5" x2="545.5" y2="169.5" stroke="#aaa" stroke-width="0.8"/>
<line x1="545.5" y1="169.5" x2="545.5" y2="252.1" stroke="#888" stroke-width="0.6"/>
<line x1="476.4" y1="169.5" x2="476.4" y2="253.6" stroke="#333" stroke-width="0.6"/>
<line x1="474.9" y1="252.1" x2="545.5" y2="252.1" stroke="#333" stroke-width="0.6"/>
<line x1="474.79999999999995" y1="252.10" x2="476.4" y2="252.10" stroke="#444" stroke-width="0.4"/>
<line x1="476.40" y1="252.1" x2="476.40" y2="253.5" stroke="#444" stroke-width="0.4"/>
<line x1="474.79999999999995" y1="243.84" x2="476.4" y2="243.84" stroke="#444" stroke-width="0.4"/>
<line x1="483.31" y1="252.1" x2="483.31" y2="253.5" stroke="#444" stroke-width="0.4"/>
<line x1="474.79999999999995" y1="235.58" x2="476.4" y2="235.58" stroke="#444" stroke-width="0.4"/>
<line x1="490.22" y1="252.1" x2="490.22" y2="253.5" stroke="#444" stroke-width="0.4"/>
<line x1="474.79999999999995" y1="227.32" x2="476.4" y2="227.32" stroke="#444" stroke-width="0.4"/>
<line x1="497.13" y1="252.1" x2="497.13" y2="253.5" stroke="#444" stroke-width="0.4"/>
<line x1="474.79999999999995" y1="219.06" x2="476.4" y2="219.06" stroke="#444" stroke-width="0.4"/>
<line x1="504.04" y1="252.1" x2="504.04" y2="253.5" stroke="#444" stroke-width="0.4"/>
<line x1="474.79999999999995" y1="210.80" x2="476.4" y2="210.80" stroke="#444" stroke-width="0.4"/>
<line x1="510.95" y1="252.1" x2="510.95" y2="253.5" stroke="#444" stroke-width="0.4"/>
<line x1="474.79999999999995" y1="202.54" x2="476.4" y2="202.54" stroke="#444" stroke-width="0.4"/>
<line x1="517.86" y1="252.1" x2="517.86" y2="253.5" stroke="#444" stroke-width="0.4"/>
<line x1="474.79999999999995" y1="194.28" x2="476.4" y2="194.28" stroke="#444" stroke-width="0.4"/>
<line x1="524.77" y1="252.1" x2="524.77" y2="253.5" stroke="#444" stroke-width="0.4"/>
<line x1="474.79999999999995" y1="186.02" x2="476.4" y2="186.02" stroke="#444" stroke-width="0.4"/>
<line x1="531.68" y1="252.1" x2="531.68" y2="253.5" stroke="#444" stroke-width="0.4"/>
<line x1="474.79999999999995" y1="177.76" x2="476.4" y2="177.76" stroke="#444" stroke-width="0.4"/>
<line x1="538.59" y1="252.1" x2="538.59" y2="253.5" stroke="#444" stroke-width="0.4"/>
<line x1="474.79999999999995" y1="169.50" x2="476.4" y2="169.50" stroke="#444" stroke-width="0.4"/>
<line x1="545.50" y1="252.1" x2="545.50" y2="253.5" stroke="#444" stroke-width="0.4"/>
<text transform="translate(473.2,169.5) rotate(-90)" font-size="3.6" text-anchor="middle" fill="#333">100</text>
<text transform="translate(473.2,210.8) rotate(-90)" font-size="3.6" text-anchor="middle" fill="#333">50</text>
<text transform="translate(473.2,252.1) rotate(-90)" font-size="3.6" text-anchor="middle" fill="#333">0</text>
<text transform="translate(467.79999999999995,174.5) rotate(-90)" font-size="3.6" text-anchor="middle" fill="#333">(x 10<tspan font-size="2.6" dy="-1">3</tspan><tspan dy="1">)</tspan></text>
<text transform="translate(467.79999999999995,210.8) rotate(-90)" font-size="3.6" text-anchor="middle" fill="#333">SSC-A</text>
<text x="476.4" y="258.4" font-size="3.6" text-anchor="middle" fill="#333">0</text>
<text x="510.9" y="258.4" font-size="3.6" text-anchor="middle" fill="#333">500</text>
<text x="545.5" y="258.4" font-size="3.6" text-anchor="middle" fill="#333">1000</text>
<text x="510.9" y="263.7" font-size="3.6" text-anchor="middle" fill="#333">FSC-A</text>
<text x="539.5" y="263.7" font-size="3.6" text-anchor="middle" fill="#333">(x 10<tspan font-size="2.6" dy="-1">3</tspan><tspan dy="1">)</tspan></text>
<text x="507.8" y="161.2" font-size="9.4" text-anchor="middle" fill="#111">EV</text>
<g transform="translate(476.4,300.3) scale(1.0000,1.0233) translate(-476.4,-21.9)">
<clipPath id="pcWT"><polygon points="482.6,21.9 545.5,21.9 545.5,103.6 476.8,103.6 477.6,81.3 479.4,61.5 481,41.8"/></clipPath>
<g clip-path="url(#pcWT)">
<polygon points="484,18 536,18 548,30 548,52 541,61.5 533.3,71.4 523.5,81.3 514.6,91.2 503.7,101 499,106 477,106 477,90 478,81.3 480,61.5 481.5,41.8" fill="#e2e2e2" filter="url(#b3)"/>
<polygon points="484,18 530,18 542,35 545.5,50 543,61 535,71 526,83 517,93 508,106 477,106 478,81.3 480.5,61.5 482,41.8" fill="#d0d0d0" filter="url(#b15)"/>
<polygon points="484,20 514,20 524,35 529,50 529,61 523,72 517,83 509,93 502,104 477.5,104 478.3,81.3 480.3,61.5 481.8,41.8" fill="#c5c5c5" filter="url(#b15)"/>
<path d="M484,18 L548,18 L548,50 L541,61.5 L533.3,71.4 L523.5,81.3 L514.6,91.2 L503.7,101 L499,106 L477,106 Z M487,20 L512,20 L521,33 L525,47 L525,60 L520,71 L513,82 L505,93 L498,106 L478,106 Z" fill-rule="evenodd" fill="url(#gs1)" opacity="0.8"/>
</g>
</g>
<ellipse cx="498.1" cy="364.7" rx="10" ry="21" transform="rotate(25 498.1 364.7)" fill="url(#halo)"/>
<ellipse cx="497.1" cy="368.7" rx="5.8" ry="12" transform="rotate(28 497.1 368.7)" fill="url(#blob)"/>
<line x1="480" y1="376" x2="485" y2="351" stroke="#666" stroke-width="2.8" stroke-linecap="round" filter="url(#b08)"/>
<polygon points="485.2,371.9 488.4,358.9 491.7,345.9 496,335 502.5,330.7 509,330.3 514.5,332.9 514.9,339.4 514.5,347 509,358.9 502.5,369.8 493.9,378.4 489.5,379.5 485.6,378" fill="none" stroke="#d23c3c" stroke-width="0.6"/>
<rect x="485.90000000000003" y="323.5" width="31.1" height="4.4" fill="#f6f6f6" fill-opacity="0.92"/>
<text x="486.3" y="327.09999999999997" font-size="3.9" fill="#d02020" textLength="30.3" lengthAdjust="spacingAndGlyphs">live Gate(82.25 %)</text>
<line x1="474.59999999999997" y1="300.3" x2="545.5" y2="300.3" stroke="#aaa" stroke-width="0.8"/>
<line x1="545.5" y1="300.3" x2="545.5" y2="383.9" stroke="#888" stroke-width="0.6"/>
<line x1="476.4" y1="300.3" x2="476.4" y2="385.4" stroke="#333" stroke-width="0.6"/>
<line x1="474.9" y1="383.9" x2="545.5" y2="383.9" stroke="#333" stroke-width="0.6"/>
<line x1="474.79999999999995" y1="383.90" x2="476.4" y2="383.90" stroke="#444" stroke-width="0.4"/>
<line x1="476.40" y1="383.9" x2="476.40" y2="385.29999999999995" stroke="#444" stroke-width="0.4"/>
<line x1="474.79999999999995" y1="375.54" x2="476.4" y2="375.54" stroke="#444" stroke-width="0.4"/>
<line x1="483.31" y1="383.9" x2="483.31" y2="385.29999999999995" stroke="#444" stroke-width="0.4"/>
<line x1="474.79999999999995" y1="367.18" x2="476.4" y2="367.18" stroke="#444" stroke-width="0.4"/>
<line x1="490.22" y1="383.9" x2="490.22" y2="385.29999999999995" stroke="#444" stroke-width="0.4"/>
<line x1="474.79999999999995" y1="358.82" x2="476.4" y2="358.82" stroke="#444" stroke-width="0.4"/>
<line x1="497.13" y1="383.9" x2="497.13" y2="385.29999999999995" stroke="#444" stroke-width="0.4"/>
<line x1="474.79999999999995" y1="350.46" x2="476.4" y2="350.46" stroke="#444" stroke-width="0.4"/>
<line x1="504.04" y1="383.9" x2="504.04" y2="385.29999999999995" stroke="#444" stroke-width="0.4"/>
<line x1="474.79999999999995" y1="342.10" x2="476.4" y2="342.10" stroke="#444" stroke-width="0.4"/>
<line x1="510.95" y1="383.9" x2="510.95" y2="385.29999999999995" stroke="#444" stroke-width="0.4"/>
<line x1="474.79999999999995" y1="333.74" x2="476.4" y2="333.74" stroke="#444" stroke-width="0.4"/>
<line x1="517.86" y1="383.9" x2="517.86" y2="385.29999999999995" stroke="#444" stroke-width="0.4"/>
<line x1="474.79999999999995" y1="325.38" x2="476.4" y2="325.38" stroke="#444" stroke-width="0.4"/>
<line x1="524.77" y1="383.9" x2="524.77" y2="385.29999999999995" stroke="#444" stroke-width="0.4"/>
<line x1="474.79999999999995" y1="317.02" x2="476.4" y2="317.02" stroke="#444" stroke-width="0.4"/>
<line x1="531.68" y1="383.9" x2="531.68" y2="385.29999999999995" stroke="#444" stroke-width="0.4"/>
<line x1="474.79999999999995" y1="308.66" x2="476.4" y2="308.66" stroke="#444" stroke-width="0.4"/>
<line x1="538.59" y1="383.9" x2="538.59" y2="385.29999999999995" stroke="#444" stroke-width="0.4"/>
<line x1="474.79999999999995" y1="300.30" x2="476.4" y2="300.30" stroke="#444" stroke-width="0.4"/>
<line x1="545.50" y1="383.9" x2="545.50" y2="385.29999999999995" stroke="#444" stroke-width="0.4"/>
<text transform="translate(473.2,300.3) rotate(-90)" font-size="3.6" text-anchor="middle" fill="#333">100</text>
<text transform="translate(473.2,342.1) rotate(-90)" font-size="3.6" text-anchor="middle" fill="#333">50</text>
<text transform="translate(473.2,383.9) rotate(-90)" font-size="3.6" text-anchor="middle" fill="#333">0</text>
<text transform="translate(467.79999999999995,305.3) rotate(-90)" font-size="3.6" text-anchor="middle" fill="#333">(x 10<tspan font-size="2.6" dy="-1">3</tspan><tspan dy="1">)</tspan></text>
<text transform="translate(467.79999999999995,342.1) rotate(-90)" font-size="3.6" text-anchor="middle" fill="#333">SSC-A</text>
<text x="476.4" y="390.2" font-size="3.6" text-anchor="middle" fill="#333">0</text>
<text x="510.9" y="390.2" font-size="3.6" text-anchor="middle" fill="#333">500</text>
<text x="545.5" y="390.2" font-size="3.6" text-anchor="middle" fill="#333">1000</text>
<text x="510.9" y="395.5" font-size="3.6" text-anchor="middle" fill="#333">FSC-A</text>
<text x="539.5" y="395.5" font-size="3.6" text-anchor="middle" fill="#333">(x 10<tspan font-size="2.6" dy="-1">3</tspan><tspan dy="1">)</tspan></text>
<text x="510.9" y="292.0" font-size="9.4" text-anchor="middle" fill="#111">WT</text>
<rect x="517.7" y="58.3" width="34.299999999999955" height="5" fill="#c00000"/>
<polygon points="562.5,60.8 551.0,53.9 551.0,67.7" fill="#c00000"/>
<rect x="521" y="207.9" width="34.299999999999955" height="5" fill="#c00000"/>
<polygon points="565.8,210.4 554.3,203.5 554.3,217.3" fill="#c00000"/>
<rect x="514.9" y="338.5" width="34.89999999999998" height="5" fill="#c00000"/>
<polygon points="560.3,341 548.8,334.1 548.8,347.9" fill="#c00000"/>
<polygon points="603.4,83.7 608.7,81.6 617.2,80.5 623.6,79.4 627.8,76.9 631,73.1 633.8,67.8 635.3,63.5 636.3,64.6 635.9,71 634.2,77.3 631.7,83.7 627.8,90.1 623.6,96.4 619.4,101.7 613,102.4 604.5,99.6 603,92.2" fill="#d85050" stroke="#e07070" stroke-width="2.4" stroke-linejoin="round" filter="url(#b08)" opacity="0.8"/>
<polygon points="603.4,83.7 608.7,81.6 617.2,80.5 623.6,79.4 627.8,76.9 631,73.1 633.8,67.8 635.3,63.5 636.3,64.6 635.9,71 634.2,77.3 631.7,83.7 627.8,90.1 623.6,96.4 619.4,101.7 613,102.4 604.5,99.6 603,92.2" fill="url(#rs1)" stroke="url(#rs1)" stroke-width="1.6" stroke-linejoin="round"/>
<polygon points="603.4,83.7 608.7,81.6 617.2,80.5 623.6,79.4 627.8,76.9 631,73.1 633.8,67.8 635.3,63.5 636.3,64.6 635.9,71 634.2,77.3 631.7,83.7 627.8,90.1 623.6,96.4 619.4,101.7 613,102.4 604.5,99.6 603,92.2" fill="#bd0202"/>
<g transform="translate(638.5,64.6) rotate(-61.62)"><rect x="-1" y="-1.75" width="44.3" height="3.5" rx="1.75" fill="none" stroke="#62cf62" stroke-width="0.75"/></g>
<line x1="598.0" y1="22.4" x2="670.5" y2="22.4" stroke="#bbb" stroke-width="0.8"/>
<line x1="670.5" y1="22.4" x2="670.5" y2="103.4" stroke="#999" stroke-width="0.6"/>
<line x1="599.8" y1="22.4" x2="599.8" y2="104.9" stroke="#333" stroke-width="0.6"/>
<line x1="598.3" y1="103.4" x2="670.5" y2="103.4" stroke="#333" stroke-width="0.6"/>
<line x1="598.4" y1="103.40" x2="599.8" y2="103.40" stroke="#555" stroke-width="0.3"/>
<line x1="599.80" y1="103.4" x2="599.80" y2="104.80000000000001" stroke="#555" stroke-width="0.3"/>
<line x1="599.0" y1="100.03" x2="599.8" y2="100.03" stroke="#555" stroke-width="0.3"/>
<line x1="602.75" y1="103.4" x2="602.75" y2="104.2" stroke="#555" stroke-width="0.3"/>
<line x1="599.0" y1="96.65" x2="599.8" y2="96.65" stroke="#555" stroke-width="0.3"/>
<line x1="605.69" y1="103.4" x2="605.69" y2="104.2" stroke="#555" stroke-width="0.3"/>
<line x1="599.0" y1="93.28" x2="599.8" y2="93.28" stroke="#555" stroke-width="0.3"/>
<line x1="608.64" y1="103.4" x2="608.64" y2="104.2" stroke="#555" stroke-width="0.3"/>
<line x1="598.4" y1="89.90" x2="599.8" y2="89.90" stroke="#555" stroke-width="0.3"/>
<line x1="611.58" y1="103.4" x2="611.58" y2="104.80000000000001" stroke="#555" stroke-width="0.3"/>
<line x1="599.0" y1="86.53" x2="599.8" y2="86.53" stroke="#555" stroke-width="0.3"/>
<line x1="614.53" y1="103.4" x2="614.53" y2="104.2" stroke="#555" stroke-width="0.3"/>
<line x1="599.0" y1="83.15" x2="599.8" y2="83.15" stroke="#555" stroke-width="0.3"/>
<line x1="617.47" y1="103.4" x2="617.47" y2="104.2" stroke="#555" stroke-width="0.3"/>
<line x1="599.0" y1="79.78" x2="599.8" y2="79.78" stroke="#555" stroke-width="0.3"/>
<line x1="620.42" y1="103.4" x2="620.42" y2="104.2" stroke="#555" stroke-width="0.3"/>
<line x1="598.4" y1="76.40" x2="599.8" y2="76.40" stroke="#555" stroke-width="0.3"/>
<line x1="623.37" y1="103.4" x2="623.37" y2="104.80000000000001" stroke="#555" stroke-width="0.3"/>
<line x1="599.0" y1="73.03" x2="599.8" y2="73.03" stroke="#555" stroke-width="0.3"/>
<line x1="626.31" y1="103.4" x2="626.31" y2="104.2" stroke="#555" stroke-width="0.3"/>
<line x1="599.0" y1="69.65" x2="599.8" y2="69.65" stroke="#555" stroke-width="0.3"/>
<line x1="629.26" y1="103.4" x2="629.26" y2="104.2" stroke="#555" stroke-width="0.3"/>
<line x1="599.0" y1="66.28" x2="599.8" y2="66.28" stroke="#555" stroke-width="0.3"/>
<line x1="632.20" y1="103.4" x2="632.20" y2="104.2" stroke="#555" stroke-width="0.3"/>
<line x1="598.4" y1="62.90" x2="599.8" y2="62.90" stroke="#555" stroke-width="0.3"/>
<line x1="635.15" y1="103.4" x2="635.15" y2="104.80000000000001" stroke="#555" stroke-width="0.3"/>
<line x1="599.0" y1="59.53" x2="599.8" y2="59.53" stroke="#555" stroke-width="0.3"/>
<line x1="638.10" y1="103.4" x2="638.10" y2="104.2" stroke="#555" stroke-width="0.3"/>
<line x1="599.0" y1="56.15" x2="599.8" y2="56.15" stroke="#555" stroke-width="0.3"/>
<line x1="641.04" y1="103.4" x2="641.04" y2="104.2" stroke="#555" stroke-width="0.3"/>
<line x1="599.0" y1="52.78" x2="599.8" y2="52.78" stroke="#555" stroke-width="0.3"/>
<line x1="643.99" y1="103.4" x2="643.99" y2="104.2" stroke="#555" stroke-width="0.3"/>
<line x1="598.4" y1="49.40" x2="599.8" y2="49.40" stroke="#555" stroke-width="0.3"/>
<line x1="646.93" y1="103.4" x2="646.93" y2="104.80000000000001" stroke="#555" stroke-width="0.3"/>
<line x1="599.0" y1="46.03" x2="599.8" y2="46.03" stroke="#555" stroke-width="0.3"/>
<line x1="649.88" y1="103.4" x2="649.88" y2="104.2" stroke="#555" stroke-width="0.3"/>
<line x1="599.0" y1="42.65" x2="599.8" y2="42.65" stroke="#555" stroke-width="0.3"/>
<line x1="652.83" y1="103.4" x2="652.83" y2="104.2" stroke="#555" stroke-width="0.3"/>
<line x1="599.0" y1="39.28" x2="599.8" y2="39.28" stroke="#555" stroke-width="0.3"/>
<line x1="655.77" y1="103.4" x2="655.77" y2="104.2" stroke="#555" stroke-width="0.3"/>
<line x1="598.4" y1="35.90" x2="599.8" y2="35.90" stroke="#555" stroke-width="0.3"/>
<line x1="658.72" y1="103.4" x2="658.72" y2="104.80000000000001" stroke="#555" stroke-width="0.3"/>
<line x1="599.0" y1="32.53" x2="599.8" y2="32.53" stroke="#555" stroke-width="0.3"/>
<line x1="661.66" y1="103.4" x2="661.66" y2="104.2" stroke="#555" stroke-width="0.3"/>
<line x1="599.0" y1="29.15" x2="599.8" y2="29.15" stroke="#555" stroke-width="0.3"/>
<line x1="664.61" y1="103.4" x2="664.61" y2="104.2" stroke="#555" stroke-width="0.3"/>
<line x1="599.0" y1="25.78" x2="599.8" y2="25.78" stroke="#555" stroke-width="0.3"/>
<line x1="667.55" y1="103.4" x2="667.55" y2="104.2" stroke="#555" stroke-width="0.3"/>
<line x1="598.4" y1="22.40" x2="599.8" y2="22.40" stroke="#555" stroke-width="0.3"/>
<line x1="670.50" y1="103.4" x2="670.50" y2="104.80000000000001" stroke="#555" stroke-width="0.3"/>
<text transform="translate(596.1999999999999,26.6) rotate(-90)" font-size="3.8" text-anchor="middle" fill="#333">10<tspan font-size="2.6" dy="-1.2">7</tspan></text>
<text transform="translate(596.1999999999999,45.1) rotate(-90)" font-size="3.8" text-anchor="middle" fill="#333">10<tspan font-size="2.6" dy="-1.2">5</tspan></text>
<text transform="translate(596.1999999999999,64.6) rotate(-90)" font-size="3.8" text-anchor="middle" fill="#333">10<tspan font-size="2.6" dy="-1.2">3</tspan></text>
<text transform="translate(596.1999999999999,83.1) rotate(-90)" font-size="3.8" text-anchor="middle" fill="#333">10<tspan font-size="2.6" dy="-1.2">1</tspan></text>
<text transform="translate(596.1999999999999,102.2) rotate(-90)" font-size="3.8" text-anchor="middle" fill="#333">0</text>
<text transform="translate(591.5999999999999,63.6) rotate(-90)" font-size="3.8" text-anchor="middle" fill="#333">PE-A</text>
<text x="606.1" y="110.9" font-size="3.8" text-anchor="middle" fill="#333">-10<tspan font-size="2.6" dy="-1.2">1</tspan></text>
<text x="615.4" y="110.9" font-size="3.8" text-anchor="middle" fill="#333">0</text>
<text x="624.1" y="110.9" font-size="3.8" text-anchor="middle" fill="#333">10<tspan font-size="2.6" dy="-1.2">1</tspan></text>
<text x="634.9" y="110.9" font-size="3.8" text-anchor="middle" fill="#333">10<tspan font-size="2.6" dy="-1.2">4</tspan></text>
<text x="645.2" y="110.9" font-size="3.8" text-anchor="middle" fill="#333">10<tspan font-size="2.6" dy="-1.2">5</tspan></text>
<text x="655.8" y="110.9" font-size="3.8" text-anchor="middle" fill="#333">10<tspan font-size="2.6" dy="-1.2">6</tspan></text>
<text x="667.5" y="110.9" font-size="3.8" text-anchor="middle" fill="#333">10<tspan font-size="2.6" dy="-1.2">7</tspan></text>
<text x="635.1" y="116.3" font-size="3.8" text-anchor="middle" fill="#333">GFP-oD1-A</text>
<text x="640.2" y="92.2" font-size="6.6" fill="#111">2 events/</text>
<text x="640.2" y="100.8" font-size="6.6" fill="#111">1 mio.</text>
<text x="634" y="14.1" font-size="9.4" text-anchor="middle" fill="#111">mock</text>
<polygon points="604.5,229.6 610.9,224.3 617.2,220 622.5,215.8 626.8,211.5 627.8,213.6 625.7,221.1 622.5,229.6 618.3,238.1 614,244.4 610.9,249.7 605.6,246.6 604.1,238.1" fill="#d85050" stroke="#e07070" stroke-width="2.4" stroke-linejoin="round" filter="url(#b08)" opacity="0.8"/>
<polygon points="604.5,229.6 610.9,224.3 617.2,220 622.5,215.8 626.8,211.5 627.8,213.6 625.7,221.1 622.5,229.6 618.3,238.1 614,244.4 610.9,249.7 605.6,246.6 604.1,238.1" fill="url(#rs1)" stroke="url(#rs1)" stroke-width="1.6" stroke-linejoin="round"/>
<polygon points="604.5,229.6 610.9,224.3 617.2,220 622.5,215.8 626.8,211.5 627.8,213.6 625.7,221.1 622.5,229.6 618.3,238.1 614,244.4 610.9,249.7 605.6,246.6 604.1,238.1" fill="#bd0202"/>
<g transform="translate(630,212.6) rotate(-55.67)"><rect x="-1" y="-1.75" width="47.0" height="3.5" rx="1.75" fill="none" stroke="#62cf62" stroke-width="0.75"/></g>
<line x1="597.5" y1="170.5" x2="668.6" y2="170.5" stroke="#bbb" stroke-width="0.8"/>
<line x1="668.6" y1="170.5" x2="668.6" y2="251.6" stroke="#999" stroke-width="0.6"/>
<line x1="599.3" y1="170.5" x2="599.3" y2="253.1" stroke="#333" stroke-width="0.6"/>
<line x1="597.8" y1="251.6" x2="668.6" y2="251.6" stroke="#333" stroke-width="0.6"/>
<line x1="597.9" y1="251.60" x2="599.3" y2="251.60" stroke="#555" stroke-width="0.3"/>
<line x1="599.30" y1="251.6" x2="599.30" y2="253.0" stroke="#555" stroke-width="0.3"/>
<line x1="598.5" y1="248.22" x2="599.3" y2="248.22" stroke="#555" stroke-width="0.3"/>
<line x1="602.19" y1="251.6" x2="602.19" y2="252.4" stroke="#555" stroke-width="0.3"/>
<line x1="598.5" y1="244.84" x2="599.3" y2="244.84" stroke="#555" stroke-width="0.3"/>
<line x1="605.07" y1="251.6" x2="605.07" y2="252.4" stroke="#555" stroke-width="0.3"/>
<line x1="598.5" y1="241.46" x2="599.3" y2="241.46" stroke="#555" stroke-width="0.3"/>
<line x1="607.96" y1="251.6" x2="607.96" y2="252.4" stroke="#555" stroke-width="0.3"/>
<line x1="597.9" y1="238.08" x2="599.3" y2="238.08" stroke="#555" stroke-width="0.3"/>
<line x1="610.85" y1="251.6" x2="610.85" y2="253.0" stroke="#555" stroke-width="0.3"/>
<line x1="598.5" y1="234.70" x2="599.3" y2="234.70" stroke="#555" stroke-width="0.3"/>
<line x1="613.74" y1="251.6" x2="613.74" y2="252.4" stroke="#555" stroke-width="0.3"/>
<line x1="598.5" y1="231.32" x2="599.3" y2="231.32" stroke="#555" stroke-width="0.3"/>
<line x1="616.62" y1="251.6" x2="616.62" y2="252.4" stroke="#555" stroke-width="0.3"/>
<line x1="598.5" y1="227.95" x2="599.3" y2="227.95" stroke="#555" stroke-width="0.3"/>
<line x1="619.51" y1="251.6" x2="619.51" y2="252.4" stroke="#555" stroke-width="0.3"/>
<line x1="597.9" y1="224.57" x2="599.3" y2="224.57" stroke="#555" stroke-width="0.3"/>
<line x1="622.40" y1="251.6" x2="622.40" y2="253.0" stroke="#555" stroke-width="0.3"/>
<line x1="598.5" y1="221.19" x2="599.3" y2="221.19" stroke="#555" stroke-width="0.3"/>
<line x1="625.29" y1="251.6" x2="625.29" y2="252.4" stroke="#555" stroke-width="0.3"/>
<line x1="598.5" y1="217.81" x2="599.3" y2="217.81" stroke="#555" stroke-width="0.3"/>
<line x1="628.17" y1="251.6" x2="628.17" y2="252.4" stroke="#555" stroke-width="0.3"/>
<line x1="598.5" y1="214.43" x2="599.3" y2="214.43" stroke="#555" stroke-width="0.3"/>
<line x1="631.06" y1="251.6" x2="631.06" y2="252.4" stroke="#555" stroke-width="0.3"/>
<line x1="597.9" y1="211.05" x2="599.3" y2="211.05" stroke="#555" stroke-width="0.3"/>
<line x1="633.95" y1="251.6" x2="633.95" y2="253.0" stroke="#555" stroke-width="0.3"/>
<line x1="598.5" y1="207.67" x2="599.3" y2="207.67" stroke="#555" stroke-width="0.3"/>
<line x1="636.84" y1="251.6" x2="636.84" y2="252.4" stroke="#555" stroke-width="0.3"/>
<line x1="598.5" y1="204.29" x2="599.3" y2="204.29" stroke="#555" stroke-width="0.3"/>
<line x1="639.73" y1="251.6" x2="639.73" y2="252.4" stroke="#555" stroke-width="0.3"/>
<line x1="598.5" y1="200.91" x2="599.3" y2="200.91" stroke="#555" stroke-width="0.3"/>
<line x1="642.61" y1="251.6" x2="642.61" y2="252.4" stroke="#555" stroke-width="0.3"/>
<line x1="597.9" y1="197.53" x2="599.3" y2="197.53" stroke="#555" stroke-width="0.3"/>
<line x1="645.50" y1="251.6" x2="645.50" y2="253.0" stroke="#555" stroke-width="0.3"/>
<line x1="598.5" y1="194.15" x2="599.3" y2="194.15" stroke="#555" stroke-width="0.3"/>
<line x1="648.39" y1="251.6" x2="648.39" y2="252.4" stroke="#555" stroke-width="0.3"/>
<line x1="598.5" y1="190.78" x2="599.3" y2="190.78" stroke="#555" stroke-width="0.3"/>
<line x1="651.27" y1="251.6" x2="651.27" y2="252.4" stroke="#555" stroke-width="0.3"/>
<line x1="598.5" y1="187.40" x2="599.3" y2="187.40" stroke="#555" stroke-width="0.3"/>
<line x1="654.16" y1="251.6" x2="654.16" y2="252.4" stroke="#555" stroke-width="0.3"/>
<line x1="597.9" y1="184.02" x2="599.3" y2="184.02" stroke="#555" stroke-width="0.3"/>
<line x1="657.05" y1="251.6" x2="657.05" y2="253.0" stroke="#555" stroke-width="0.3"/>
<line x1="598.5" y1="180.64" x2="599.3" y2="180.64" stroke="#555" stroke-width="0.3"/>
<line x1="659.94" y1="251.6" x2="659.94" y2="252.4" stroke="#555" stroke-width="0.3"/>
<line x1="598.5" y1="177.26" x2="599.3" y2="177.26" stroke="#555" stroke-width="0.3"/>
<line x1="662.83" y1="251.6" x2="662.83" y2="252.4" stroke="#555" stroke-width="0.3"/>
<line x1="598.5" y1="173.88" x2="599.3" y2="173.88" stroke="#555" stroke-width="0.3"/>
<line x1="665.71" y1="251.6" x2="665.71" y2="252.4" stroke="#555" stroke-width="0.3"/>
<line x1="597.9" y1="170.50" x2="599.3" y2="170.50" stroke="#555" stroke-width="0.3"/>
<line x1="668.60" y1="251.6" x2="668.60" y2="253.0" stroke="#555" stroke-width="0.3"/>
<text transform="translate(595.6999999999999,174.7) rotate(-90)" font-size="3.8" text-anchor="middle" fill="#333">10<tspan font-size="2.6" dy="-1.2">7</tspan></text>
<text transform="translate(595.6999999999999,193.2) rotate(-90)" font-size="3.8" text-anchor="middle" fill="#333">10<tspan font-size="2.6" dy="-1.2">5</tspan></text>
<text transform="translate(595.6999999999999,212.7) rotate(-90)" font-size="3.8" text-anchor="middle" fill="#333">10<tspan font-size="2.6" dy="-1.2">3</tspan></text>
<text transform="translate(595.6999999999999,231.2) rotate(-90)" font-size="3.8" text-anchor="middle" fill="#333">10<tspan font-size="2.6" dy="-1.2">1</tspan></text>
<text transform="translate(595.6999999999999,250.4) rotate(-90)" font-size="3.8" text-anchor="middle" fill="#333">0</text>
<text transform="translate(591.0999999999999,211.7) rotate(-90)" font-size="3.8" text-anchor="middle" fill="#333">PE-A</text>
<text x="605.6" y="259.1" font-size="3.8" text-anchor="middle" fill="#333">-10<tspan font-size="2.6" dy="-1.2">1</tspan></text>
<text x="614.9" y="259.1" font-size="3.8" text-anchor="middle" fill="#333">0</text>
<text x="623.6" y="259.1" font-size="3.8" text-anchor="middle" fill="#333">10<tspan font-size="2.6" dy="-1.2">1</tspan></text>
<text x="634.4" y="259.1" font-size="3.8" text-anchor="middle" fill="#333">10<tspan font-size="2.6" dy="-1.2">4</tspan></text>
<text x="644.7" y="259.1" font-size="3.8" text-anchor="middle" fill="#333">10<tspan font-size="2.6" dy="-1.2">5</tspan></text>
<text x="655.3" y="259.1" font-size="3.8" text-anchor="middle" fill="#333">10<tspan font-size="2.6" dy="-1.2">6</tspan></text>
<text x="667.0" y="259.1" font-size="3.8" text-anchor="middle" fill="#333">10<tspan font-size="2.6" dy="-1.2">7</tspan></text>
<text x="634.0" y="264.5" font-size="3.8" text-anchor="middle" fill="#333">GFP-oD1-A</text>
<text x="641.6" y="240.4" font-size="6.6" fill="#111">2 events/</text>
<text x="641.6" y="249.0" font-size="6.6" fill="#111">1 mio.</text>
<text x="634.3" y="162.2" font-size="9.4" text-anchor="middle" fill="#111">EV</text>
<polygon points="603.8,362.5 609.3,358 616,354.7 622.6,351.4 628.1,347 631.5,343.6 634.1,341.4 633.7,343.6 631.5,349.2 627,358 623.7,366.9 620.4,374.7 613.7,378 606,379.8 603.8,373.6" fill="#d85050" stroke="#e07070" stroke-width="2.4" stroke-linejoin="round" filter="url(#b08)" opacity="0.8"/>
<polygon points="603.8,362.5 609.3,358 616,354.7 622.6,351.4 628.1,347 631.5,343.6 634.1,341.4 633.7,343.6 631.5,349.2 627,358 623.7,366.9 620.4,374.7 613.7,378 606,379.8 603.8,373.6" fill="url(#rs1)" stroke="url(#rs1)" stroke-width="1.6" stroke-linejoin="round"/>
<polygon points="603.8,362.5 609.3,358 616,354.7 622.6,351.4 628.1,347 631.5,343.6 634.1,341.4 633.7,343.6 631.5,349.2 627,358 623.7,366.9 620.4,374.7 613.7,378 606,379.8 603.8,373.6" fill="#bd0202"/>
<g transform="translate(634.8,342.5) rotate(-58.81)"><rect x="-1" y="-1.75" width="44.7" height="3.5" rx="1.75" fill="none" stroke="#62cf62" stroke-width="0.75"/></g>
<line x1="599.1" y1="300.4" x2="669.1" y2="300.4" stroke="#bbb" stroke-width="0.8"/>
<line x1="669.1" y1="300.4" x2="669.1" y2="382.4" stroke="#999" stroke-width="0.6"/>
<line x1="600.9" y1="300.4" x2="600.9" y2="383.9" stroke="#333" stroke-width="0.6"/>
<line x1="599.4" y1="382.4" x2="669.1" y2="382.4" stroke="#333" stroke-width="0.6"/>
<line x1="599.5" y1="382.40" x2="600.9" y2="382.40" stroke="#555" stroke-width="0.3"/>
<line x1="600.90" y1="382.4" x2="600.90" y2="383.79999999999995" stroke="#555" stroke-width="0.3"/>
<line x1="600.1" y1="378.98" x2="600.9" y2="378.98" stroke="#555" stroke-width="0.3"/>
<line x1="603.74" y1="382.4" x2="603.74" y2="383.2" stroke="#555" stroke-width="0.3"/>
<line x1="600.1" y1="375.57" x2="600.9" y2="375.57" stroke="#555" stroke-width="0.3"/>
<line x1="606.58" y1="382.4" x2="606.58" y2="383.2" stroke="#555" stroke-width="0.3"/>
<line x1="600.1" y1="372.15" x2="600.9" y2="372.15" stroke="#555" stroke-width="0.3"/>
<line x1="609.42" y1="382.4" x2="609.42" y2="383.2" stroke="#555" stroke-width="0.3"/>
<line x1="599.5" y1="368.73" x2="600.9" y2="368.73" stroke="#555" stroke-width="0.3"/>
<line x1="612.27" y1="382.4" x2="612.27" y2="383.79999999999995" stroke="#555" stroke-width="0.3"/>
<line x1="600.1" y1="365.32" x2="600.9" y2="365.32" stroke="#555" stroke-width="0.3"/>
<line x1="615.11" y1="382.4" x2="615.11" y2="383.2" stroke="#555" stroke-width="0.3"/>
<line x1="600.1" y1="361.90" x2="600.9" y2="361.90" stroke="#555" stroke-width="0.3"/>
<line x1="617.95" y1="382.4" x2="617.95" y2="383.2" stroke="#555" stroke-width="0.3"/>
<line x1="600.1" y1="358.48" x2="600.9" y2="358.48" stroke="#555" stroke-width="0.3"/>
<line x1="620.79" y1="382.4" x2="620.79" y2="383.2" stroke="#555" stroke-width="0.3"/>
<line x1="599.5" y1="355.07" x2="600.9" y2="355.07" stroke="#555" stroke-width="0.3"/>
<line x1="623.63" y1="382.4" x2="623.63" y2="383.79999999999995" stroke="#555" stroke-width="0.3"/>
<line x1="600.1" y1="351.65" x2="600.9" y2="351.65" stroke="#555" stroke-width="0.3"/>
<line x1="626.48" y1="382.4" x2="626.48" y2="383.2" stroke="#555" stroke-width="0.3"/>
<line x1="600.1" y1="348.23" x2="600.9" y2="348.23" stroke="#555" stroke-width="0.3"/>
<line x1="629.32" y1="382.4" x2="629.32" y2="383.2" stroke="#555" stroke-width="0.3"/>
<line x1="600.1" y1="344.82" x2="600.9" y2="344.82" stroke="#555" stroke-width="0.3"/>
<line x1="632.16" y1="382.4" x2="632.16" y2="383.2" stroke="#555" stroke-width="0.3"/>
<line x1="599.5" y1="341.40" x2="600.9" y2="341.40" stroke="#555" stroke-width="0.3"/>
<line x1="635.00" y1="382.4" x2="635.00" y2="383.79999999999995" stroke="#555" stroke-width="0.3"/>
<line x1="600.1" y1="337.98" x2="600.9" y2="337.98" stroke="#555" stroke-width="0.3"/>
<line x1="637.84" y1="382.4" x2="637.84" y2="383.2" stroke="#555" stroke-width="0.3"/>
<line x1="600.1" y1="334.57" x2="600.9" y2="334.57" stroke="#555" stroke-width="0.3"/>
<line x1="640.68" y1="382.4" x2="640.68" y2="383.2" stroke="#555" stroke-width="0.3"/>
<line x1="600.1" y1="331.15" x2="600.9" y2="331.15" stroke="#555" stroke-width="0.3"/>
<line x1="643.52" y1="382.4" x2="643.52" y2="383.2" stroke="#555" stroke-width="0.3"/>
<line x1="599.5" y1="327.73" x2="600.9" y2="327.73" stroke="#555" stroke-width="0.3"/>
<line x1="646.37" y1="382.4" x2="646.37" y2="383.79999999999995" stroke="#555" stroke-width="0.3"/>
<line x1="600.1" y1="324.32" x2="600.9" y2="324.32" stroke="#555" stroke-width="0.3"/>
<line x1="649.21" y1="382.4" x2="649.21" y2="383.2" stroke="#555" stroke-width="0.3"/>
<line x1="600.1" y1="320.90" x2="600.9" y2="320.90" stroke="#555" stroke-width="0.3"/>
<line x1="652.05" y1="382.4" x2="652.05" y2="383.2" stroke="#555" stroke-width="0.3"/>
<line x1="600.1" y1="317.48" x2="600.9" y2="317.48" stroke="#555" stroke-width="0.3"/>
<line x1="654.89" y1="382.4" x2="654.89" y2="383.2" stroke="#555" stroke-width="0.3"/>
<line x1="599.5" y1="314.07" x2="600.9" y2="314.07" stroke="#555" stroke-width="0.3"/>
<line x1="657.73" y1="382.4" x2="657.73" y2="383.79999999999995" stroke="#555" stroke-width="0.3"/>
<line x1="600.1" y1="310.65" x2="600.9" y2="310.65" stroke="#555" stroke-width="0.3"/>
<line x1="660.58" y1="382.4" x2="660.58" y2="383.2" stroke="#555" stroke-width="0.3"/>
<line x1="600.1" y1="307.23" x2="600.9" y2="307.23" stroke="#555" stroke-width="0.3"/>
<line x1="663.42" y1="382.4" x2="663.42" y2="383.2" stroke="#555" stroke-width="0.3"/>
<line x1="600.1" y1="303.82" x2="600.9" y2="303.82" stroke="#555" stroke-width="0.3"/>
<line x1="666.26" y1="382.4" x2="666.26" y2="383.2" stroke="#555" stroke-width="0.3"/>
<line x1="599.5" y1="300.40" x2="600.9" y2="300.40" stroke="#555" stroke-width="0.3"/>
<line x1="669.10" y1="382.4" x2="669.10" y2="383.79999999999995" stroke="#555" stroke-width="0.3"/>
<text transform="translate(597.3,304.6) rotate(-90)" font-size="3.8" text-anchor="middle" fill="#333">10<tspan font-size="2.6" dy="-1.2">7</tspan></text>
<text transform="translate(597.3,323.1) rotate(-90)" font-size="3.8" text-anchor="middle" fill="#333">10<tspan font-size="2.6" dy="-1.2">5</tspan></text>
<text transform="translate(597.3,342.6) rotate(-90)" font-size="3.8" text-anchor="middle" fill="#333">10<tspan font-size="2.6" dy="-1.2">3</tspan></text>
<text transform="translate(597.3,361.1) rotate(-90)" font-size="3.8" text-anchor="middle" fill="#333">10<tspan font-size="2.6" dy="-1.2">1</tspan></text>
<text transform="translate(597.3,381.2) rotate(-90)" font-size="3.8" text-anchor="middle" fill="#333">0</text>
<text transform="translate(592.6999999999999,341.6) rotate(-90)" font-size="3.8" text-anchor="middle" fill="#333">PE-A</text>
<text x="607.2" y="389.9" font-size="3.8" text-anchor="middle" fill="#333">-10<tspan font-size="2.6" dy="-1.2">1</tspan></text>
<text x="616.5" y="389.9" font-size="3.8" text-anchor="middle" fill="#333">0</text>
<text x="625.2" y="389.9" font-size="3.8" text-anchor="middle" fill="#333">10<tspan font-size="2.6" dy="-1.2">1</tspan></text>
<text x="636.0" y="389.9" font-size="3.8" text-anchor="middle" fill="#333">10<tspan font-size="2.6" dy="-1.2">4</tspan></text>
<text x="646.3" y="389.9" font-size="3.8" text-anchor="middle" fill="#333">10<tspan font-size="2.6" dy="-1.2">5</tspan></text>
<text x="656.9" y="389.9" font-size="3.8" text-anchor="middle" fill="#333">10<tspan font-size="2.6" dy="-1.2">6</tspan></text>
<text x="668.6" y="389.9" font-size="3.8" text-anchor="middle" fill="#333">10<tspan font-size="2.6" dy="-1.2">7</tspan></text>
<text x="635.0" y="395.3" font-size="3.8" text-anchor="middle" fill="#333">GFP-oD1-A</text>
<text x="637" y="371.2" font-size="6.6" fill="#111">43 events/</text>
<text x="637" y="379.8" font-size="6.6" fill="#111">1 mio.</text>
<text x="635.2" y="292.1" font-size="9.4" text-anchor="middle" fill="#111">WT</text>
<text x="634" y="302.6" font-size="2.6" fill="#7ad07a" textLength="18" lengthAdjust="spacingAndGlyphs">GFP+ (0.0043 %)</text>
<polygon points="458.5,18 460.7,18 462.9,402.9 460.6,402.9" fill="#000"/>
<polygon points="459.6,9.1 455.2,19.7 464.1,19.7" fill="#000"/>
<rect x="460.6" y="400.6" width="93" height="2.3" fill="#000"/>
<polygon points="561,401.7 552.7,397.2 552.7,406.3" fill="#000"/>
<polygon points="582.3,18 584.5,18 586.1,402.9 583.9,402.9" fill="#000"/>
<polygon points="583.4,9.3 579,19.6 587.7,19.6" fill="#000"/>
<rect x="583.9" y="400.6" width="93" height="2.3" fill="#000"/>
<polygon points="685,401.7 676.6,396.8 676.6,406.6" fill="#000"/>
<text transform="translate(455.3,389.9) rotate(-90)" font-size="9.2" text-anchor="middle" fill="#111">SSC</text>
<text x="470.8" y="414.4" font-size="9.3" fill="#111">FSC</text>
<text transform="translate(578.3,353.8) rotate(-90)" font-size="9.4" text-anchor="middle" fill="#111" textLength="87" lengthAdjust="spacingAndGlyphs">autofluorescence PE</text>
<text x="587.6" y="413.9" font-size="9.35" fill="#111">GFP-oD1</text>
</svg></body></html>
